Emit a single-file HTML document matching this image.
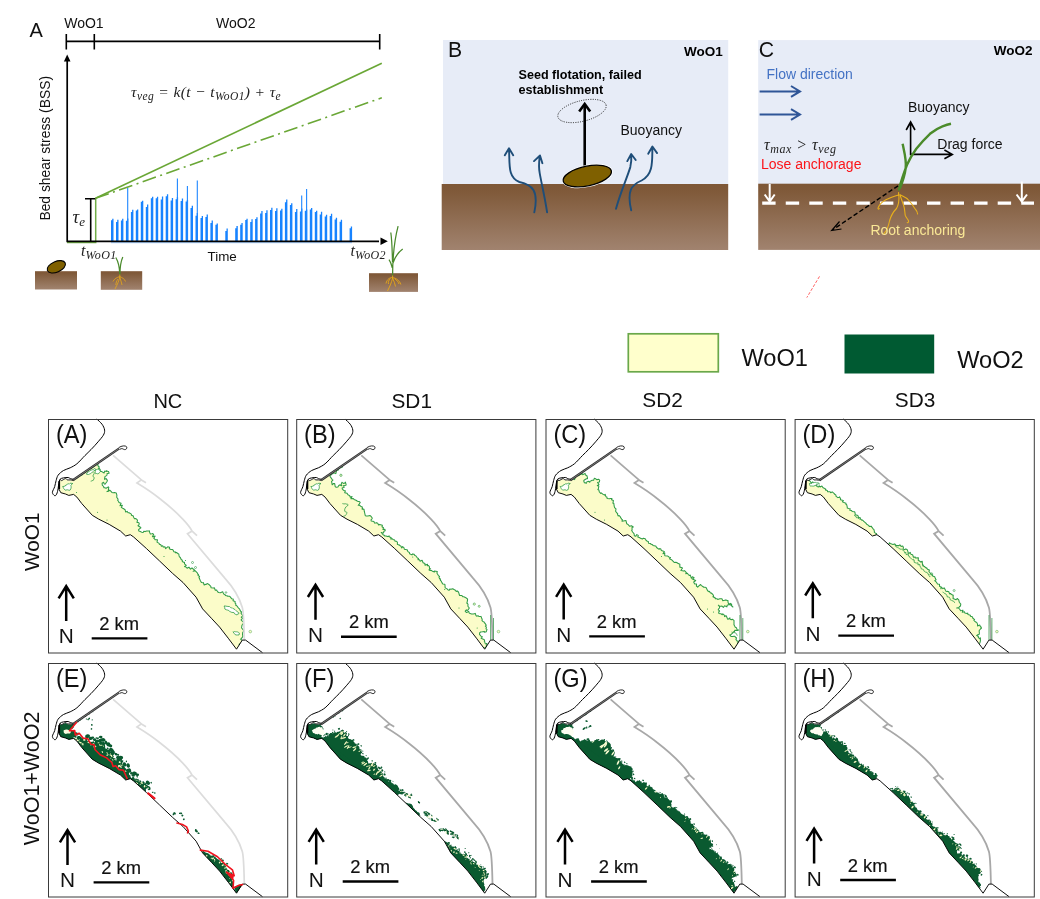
<!DOCTYPE html>
<html><head><meta charset="utf-8"><title>Figure</title>
<style>
html,body{margin:0;padding:0;background:#fff;}
body{width:1040px;height:899px;overflow:hidden;font-family:"Liberation Sans",sans-serif;}
svg{display:block;will-change:transform}
.s{font-family:"Liberation Sans",sans-serif;fill:#111}
.b{font-weight:bold;fill:#000}
.k{stroke:#111;stroke-width:0.18px}
.m{font-family:"Liberation Serif",serif;font-style:italic;fill:#222}
</style></head><body>
<svg width="1040" height="899" viewBox="0 0 1040 899">
<defs>
<linearGradient id="soil" x1="0" y1="0" x2="0" y2="1"><stop offset="0" stop-color="#7e5736"/><stop offset="0.12" stop-color="#805a3a"/><stop offset="1" stop-color="#a1836f"/></linearGradient>
<g id="coast"><path d="M48.8 0.0C49.7 0.9 52.7 3.4 54.0 5.2C55.3 7.0 56.4 9.2 56.6 11.1C56.8 12.9 56.4 14.4 55.3 16.3C54.2 18.2 52.1 20.4 50.1 22.8C48.1 25.2 45.2 28.3 43.0 30.6C40.8 32.9 39.4 34.1 37.0 36.5C34.6 38.9 31.4 42.8 28.9 44.8C26.4 46.8 24.4 47.7 22.2 48.8C20.0 49.9 17.5 50.3 15.5 51.5C13.5 52.7 11.3 54.5 10.1 56.2C8.9 57.9 8.7 59.7 8.1 61.6C7.5 63.5 7.3 65.6 6.7 67.6C6.1 69.6 4.4 71.9 4.4 73.4C4.4 74.9 6.0 76.4 6.7 76.7C7.4 77.0 8.1 76.2 8.7 75.0C9.3 73.8 9.8 71.5 10.1 69.7C10.4 67.9 10.5 65.9 10.8 64.3C11.1 62.7 11.3 61.1 12.1 60.2C12.9 59.3 14.2 59.2 15.5 58.9C16.9 58.6 19.1 58.4 20.2 58.5C21.3 58.6 21.3 59.3 22.2 59.6C23.1 59.9 25.0 60.3 25.6 60.4" fill="none" stroke="#000" stroke-width="1"/><path d="M12.1 60.4C12.3 60.6 12.6 61.7 13.5 61.6C14.4 61.5 16.5 59.7 17.5 59.6C18.5 59.5 18.7 60.7 19.5 60.9C20.3 61.1 21.3 60.8 22.2 60.9C23.1 61.0 24.5 61.3 25.0 61.4" fill="none" stroke="#000" stroke-width="0.9"/><path d="M11.6 61.0L11.1 64.3L10.7 69.7L12.8 73.7L17.5 75.0L20.8 76.4L25.6 75.4L28.9 78.1L33.8 84.6L44.3 96.3L50.8 100.2L61.2 105.4L72.5 112.1L77.7 117.0L82.3 115.7L85.5 117.9L98.5 129.6L111.6 142.0L124.6 154.4L135.0 163.5L148.1 178.2L154.6 189.9L163.8 199.7L171.6 208.1L180.7 219.8L188.5 230.2L194.3 221.1L197.6 221.1L214.5 233.7" fill="none" stroke="#000" stroke-width="0.95" stroke-linejoin="round"/><path d="M11.3 62V70" stroke="#000" stroke-width="1.6"/><path d="M24.8 61.2L71.3 29.4" stroke="#2a2a2a" stroke-width="2.3" fill="none"/><path d="M25.5 60.7L71.3 29.4" stroke="#b5b5b5" stroke-width="0.55" fill="none"/><path d="M70.8 28.6C73.5 26.6 77.5 26.4 78.5 27.7C79.5 29.1 78.2 30.8 76.6 30.6C75.3 30.4 74.6 29.3 73.2 29.7L71.8 30.3" fill="#fff" stroke="#111" stroke-width="0.9"/></g>
<path id="gl" d="M65.1 36.4L93.4 60.9L89 63.9C95 67.5 105 74 111.6 79.5C120 86 130 95 135 100.3C139 104.5 142 108 144.1 112.1L139.5 114.7L176.6 158.9C184 167 191 177 194.3 188.6C195.6 193 195.9 200 196.3 221.1M93.4 60.9L98 63.7M144.1 112.1L149 116.6" fill="none"/>
<clipPath id="land"><path d="M11.6 61.0L11.1 64.3L10.7 69.7L12.8 73.7L17.5 75.0L20.8 76.4L25.6 75.4L28.9 78.1L33.8 84.6L44.3 96.3L50.8 100.2L61.2 105.4L72.5 112.1L77.7 117.0L82.3 115.7L85.5 117.9L98.5 129.6L111.6 142.0L124.6 154.4L135.0 163.5L148.1 178.2L154.6 189.9L163.8 199.7L171.6 208.1L180.7 219.8L188.5 230.2L194.3 221.1L197.0 221.0L240.0 221.0L240.0 30.0L71.5 29.6L24.8 61.5L19.5 61.2L17.5 60.0L13.5 61.8Z"/></clipPath>
</defs>
<g stroke="#000" stroke-width="1.6" fill="none">
<path d="M66.3 41.4H379.7M66.3 34V49.5M94.3 34V49.5M379.7 34V49.5"/>
</g>
<text x="29.4" y="36.5" font-size="20" class="s">A</text>
<text x="64.2" y="28" font-size="14" class="s">WoO1</text>
<text x="216" y="28.2" font-size="14" class="s">WoO2</text>
<path d="M111.0 241.6V220.3H112.2V218.8H113.5V241.6ZM116.0 241.6V221.9H117.2V219.8H118.5V241.6ZM120.9 241.6V220.5H122.1V218.8H123.4V241.6ZM125.9 241.6V220.8H127.1V218.6H128.4V241.6ZM130.9 241.6V212.0H132.1V209.7H133.4V241.6ZM135.8 241.6V210.5H137.0V209.4H138.3V241.6ZM140.8 241.6V201.8H142.0V200.8H143.3V241.6ZM145.8 241.6V207.1H147.0V204.4H148.3V241.6ZM150.8 241.6V198.2H152.0V196.7H153.3V241.6ZM155.7 241.6V198.2H156.9V196.7H158.2V241.6ZM160.7 241.6V199.5H161.9V196.5H163.2V241.6ZM165.7 241.6V196.2H166.9V194.3H168.2V241.6ZM170.6 241.6V200.6H171.8V197.9H173.1V241.6ZM175.6 241.6V199.2H176.8V197.2H178.1V241.6ZM180.6 241.6V200.9H181.8V198.6H183.1V241.6ZM185.6 241.6V201.4H186.8V200.1H188.1V241.6ZM190.5 241.6V208.1H191.7V205.8H193.0V241.6ZM195.5 241.6V215.7H196.7V213.0H198.0V241.6ZM200.5 241.6V217.9H201.7V215.9H203.0V241.6ZM205.4 241.6V217.0H206.6V214.5H207.9V241.6ZM210.4 241.6V222.9H211.6V220.6H212.9V241.6ZM215.4 241.6V224.7H216.6V223.6H217.9V241.6ZM225.3 241.6V231.1H226.5V228.6H227.8V241.6ZM235.2 241.6V228.2H236.4V226.0H237.8V241.6ZM240.2 241.6V224.7H241.4V223.1H242.7V241.6ZM245.2 241.6V219.9H246.4V218.8H247.7V241.6ZM250.2 241.6V221.9H251.4V219.2H252.7V241.6ZM255.1 241.6V219.1H256.3V217.2H257.6V241.6ZM260.1 241.6V213.5H261.3V211.1H262.6V241.6ZM265.1 241.6V213.1H266.3V210.3H267.6V241.6ZM270.0 241.6V210.1H271.2V207.7H272.5V241.6ZM275.0 241.6V211.1H276.2V208.3H277.5V241.6ZM280.0 241.6V210.5H281.2V208.7H282.5V241.6ZM284.9 241.6V202.2H286.1V199.6H287.4V241.6ZM289.9 241.6V205.1H291.1V203.2H292.4V241.6ZM294.9 241.6V212.0H296.1V209.1H297.4V241.6ZM299.9 241.6V211.4H301.1V208.6H302.4V241.6ZM304.8 241.6V210.8H306.0V209.6H307.3V241.6ZM309.8 241.6V209.4H311.0V208.1H312.3V241.6ZM314.8 241.6V212.1H316.0V210.7H317.3V241.6ZM319.7 241.6V214.6H320.9V211.7H322.2V241.6ZM324.7 241.6V216.6H325.9V214.7H327.2V241.6ZM329.7 241.6V216.0H330.9V213.7H332.2V241.6ZM334.6 241.6V219.4H335.8V217.8H337.1V241.6ZM339.6 241.6V221.8H340.8V219.8H342.1V241.6ZM349.6 241.6V228.3H350.8V226.5H352.1V241.6Z" fill="#1783ff"/>
<path d="M127.7 241.6V188.1M177.4 241.6V178.4M187.4 241.6V185.9M197.3 241.6V180.6M301.7 241.6V195.6M306.6 241.6V189.1" stroke="#1f87ff" stroke-width="1.1" fill="none"/>
<path d="M111 242.7H352" stroke="#5aa8ff" stroke-width="0.6"/>
<path d="M67 242.4H95.7V198.4" stroke="#70ad47" stroke-width="1.5" fill="none"/>
<path d="M95.5 198.3L381.8 63.2" stroke="#6aa736" stroke-width="1.6" fill="none"/>
<path d="M95.5 198.3L381.8 97.8" stroke="#6aa736" stroke-width="1.6" fill="none" stroke-dasharray="14 4.5 2 4.5"/>
<g stroke="#000" stroke-width="1.7" fill="none">
<path d="M67.2 241.5V60M66.4 241.3H379"/>
</g>
<path d="M67.2 54.5L63.9 61.5H70.5Z" fill="#000"/>
<path d="M387.8 241.2L380.5 237.5V244.9Z" fill="#000"/>
<path d="M85 198.8H95.3M90.7 198.8V241" stroke="#000" stroke-width="1.6" fill="none"/>
<text transform="translate(49.8 220.6) rotate(-90)" font-size="13.85" class="s">Bed shear stress (BSS)</text>
<text x="207.5" y="261.3" font-size="13.4" class="s">Time</text>
<text x="131" y="96.5" font-size="15.5" class="m" letter-spacing="0.38">τ<tspan font-size="11.5" dy="3.2">veg</tspan><tspan dy="-3.2"> = k(t − t</tspan><tspan font-size="11.5" dy="3.2">WoO1</tspan><tspan dy="-3.2">) + τ</tspan><tspan font-size="11.5" dy="3.2">e</tspan></text>
<text x="72.5" y="222.5" font-size="18.5" class="m">τ<tspan font-size="13" dy="3.5">e</tspan></text>
<text x="81" y="256.3" font-size="16" class="m">t<tspan font-size="12" dy="3" letter-spacing="0.45">WoO1</tspan></text>
<text x="350.5" y="256.3" font-size="16" class="m">t<tspan font-size="12" dy="3" letter-spacing="0.3">WoO2</tspan></text>
<rect x="35" y="271.2" width="42" height="18.3" fill="url(#soil)"/>
<rect x="100.8" y="271.2" width="41.4" height="18.6" fill="url(#soil)"/>
<rect x="369" y="273.2" width="49" height="18.7" fill="url(#soil)"/>
<ellipse cx="56.3" cy="266.8" rx="9.7" ry="5.3" transform="rotate(-23 56.3 266.8)" fill="#7f6000" stroke="#000" stroke-width="1.1"/>
<path d="M119.8 274.5C119.6 268 118.5 262 115.8 257.5M119.9 274.5C120 267 121 261 122.8 257" stroke="#4a8a2c" stroke-width="1.25" fill="none"/>
<path d="M119.8 274.5V277M119.8 276.5C117 277.5 114.5 278.5 113 281.5M119.8 276.5C122 277.8 124.5 278.5 125.5 281.5M119.8 277C119 281 117.5 284 115 289M119.8 277C120.5 280 121.5 282 122 285M118 279C116.5 281 116 283 115.8 285" stroke="#e8a818" stroke-width="0.8" fill="none"/>
<path d="M392.6 276C392.6 262 394.5 240 398.1 226.2M392.5 262C392.2 250 392 240 390.8 232.5M393 263C395 257 398.5 252 402.7 249M392.3 268C391.5 264 390.5 261.5 389 259.5" stroke="#4a8a2c" stroke-width="1.25" fill="none"/>
<path d="M392.6 275.5V278.5M392.6 277.5C390 277.5 387 279 386 283.5M392.6 277.5C396 278.5 399.5 280 400.8 284.5M392.6 278C391.5 283 389.5 287 387.5 291M392.6 278C394 281 395 284 395.5 286.5M390.5 278.5C388.5 280.5 388 282 388.5 284M395 279C397 280.5 398 281.5 399 284" stroke="#e8a818" stroke-width="0.9" fill="none"/>
<rect x="443" y="40" width="285.2" height="144.3" fill="#e7ecf7"/>
<rect x="441.7" y="184" width="286.5" height="66" fill="url(#soil)"/>
<text x="448.1" y="56.6" font-size="21.2" class="s">B</text>
<text x="684" y="56.2" font-size="13.5" class="s b">WoO1</text>
<text x="518.5" y="78.6" font-size="12.6" class="s b">Seed flotation, failed</text>
<text x="518.5" y="93.6" font-size="12.6" class="s b">establishment</text>
<text x="620.5" y="135" font-size="14" class="s">Buoyancy</text>
<ellipse cx="582" cy="111" rx="24.8" ry="10.3" transform="rotate(-14 582 111)" fill="none" stroke="#222" stroke-width="0.9" stroke-dasharray="1 1.3"/>
<path d="M584.7 168V105" stroke="#000" stroke-width="2.6" fill="none"/>
<path d="M579.2 111.5L584.7 104L590.2 111.5" stroke="#000" stroke-width="2.6" fill="none" stroke-linejoin="miter"/>
<ellipse cx="587.3" cy="176" rx="24.6" ry="9.8" transform="rotate(-12 587.3 176)" fill="#7f6000" stroke="#fff" stroke-width="2.5"/>
<ellipse cx="587.3" cy="176" rx="24.6" ry="9.8" transform="rotate(-12 587.3 176)" fill="#7f6000" stroke="#000" stroke-width="1.3"/>
<path d="M534.3 212.4C538.8 191.0 532.8 185.0 519.4 182.0C507.5 177.5 509.9 164.1 509.0 149.2M504.8 155.2L509.0 148.3L513.2 155.2" stroke="#1f4e79" stroke-width="1.9" fill="none" stroke-linecap="round" stroke-linejoin="round"/>
<path d="M547.1 212.4C544.8 196.9 541.8 185.0 539.7 173.1C538.5 167.1 539.1 161.1 539.7 156.7M534.0 161.1L540.0 155.5L542.4 163.2" stroke="#1f4e79" stroke-width="1.9" fill="none" stroke-linecap="round" stroke-linejoin="round"/>
<path d="M616.0 208.8C620.8 191.0 626.7 179.0 630.3 167.1C631.5 162.6 631.5 158.8 631.2 155.2M627.3 161.1L631.2 154.0L635.7 160.0" stroke="#1f4e79" stroke-width="1.9" fill="none" stroke-linecap="round" stroke-linejoin="round"/>
<path d="M631.2 210.3C626.7 191.0 631.2 185.0 641.6 180.5C653.5 174.6 652.1 161.1 652.4 147.7M648.2 153.7L652.4 146.5L657.1 153.1" stroke="#1f4e79" stroke-width="1.9" fill="none" stroke-linecap="round" stroke-linejoin="round"/>
<rect x="758.2" y="40.1" width="282" height="144" fill="#e7ecf7"/>
<rect x="758.2" y="183.7" width="282" height="66.2" fill="url(#soil)"/>
<text x="758.8" y="57" font-size="21.2" class="s">C</text>
<text x="993.8" y="55.2" font-size="13.5" class="s b">WoO2</text>
<text x="766.5" y="79.2" font-size="14" class="s" style="fill:#4472c4">Flow direction</text>
<g stroke="#2f5597" stroke-width="2" fill="none"><path d="M759.6 91.4H799M791 86L800 91.4L791 96.8M759.6 114.5H799M791 109.1L800 114.5L791 119.9"/></g>
<text x="764" y="149.8" font-size="16" class="m" letter-spacing="0.5">τ<tspan font-size="12" dy="3">max</tspan><tspan dy="-3"> &gt; τ</tspan><tspan font-size="12" dy="3">veg</tspan></text>
<text x="761" y="169" font-size="14" class="s" style="fill:#fb1419">Lose anchorage</text>
<text x="908" y="112.3" font-size="14" class="s">Buoyancy</text>
<text x="937.3" y="149.2" font-size="14" class="s">Drag force</text>
<path d="M910.6 122.5V154.4H951.5M906.2 130L910.6 122L915 130M944.4 150L952.3 154.4L944.4 158.8" stroke="#000" stroke-width="1.6" fill="none"/>
<path d="M898.7 190.5C900.5 183 903.5 174 906.9 165C909.5 159 912.5 154 916.3 148.8C920.5 143.5 925 138.5 930 133.8C934 130.5 938 128 942.5 126.3C945.5 125.2 948.5 124.3 951 123.8M902.6 143.8C904.4 152.5 906.6 160 905.7 168C904.8 175 902.5 182 899.8 188.5" stroke="#4b8b2b" stroke-width="2.4" fill="none" stroke-linecap="butt"/>
<path d="M762.2 203.2H1034" stroke="#fff" stroke-width="3.3" stroke-dasharray="13.4 10.15" fill="none"/>
<path d="M769.7 184V201M764.7 194.5L769.7 201.5L774.7 194.5M1021.8 181.5V201M1016.6 194.5L1021.8 201.5L1027 194.5" stroke="#fff" stroke-width="2" fill="none"/>
<path d="M898.1 185.8L832.9 229.6" stroke="#000" stroke-width="1.4" stroke-dasharray="4.6 2.4" fill="none"/>
<path d="M839.5 221.5L831.7 230.5L841.5 229.0" stroke="#000" stroke-width="1.2" fill="none"/>
<path d="M898.6 192.5V195.5M898.5 195C889 197.9 881.2 200.8 878.2 207.5C877.6 209 878.3 209.5 879.3 208.6M898.9 195C899.3 201.7 898 206 896.5 208.5C893 212 890.8 216.2 889.5 221C888.4 226.7 886.5 231 884 233.5M900.2 195.5C901 198 902.3 201.7 903.5 205C905 209 904.7 212 905.2 215.2C906 218 908.9 220 908.6 221.5C908.4 222.6 907.9 222.9 907.2 222.6M900 194.6C902 196 906.2 197 908.5 200C911 202.7 913 205.5 914.8 208.5C916 210 917.5 211.3 917.6 214" stroke="#e8af1c" stroke-width="1.1" fill="none" stroke-linecap="round"/>
<text x="870.4" y="235.2" font-size="14" class="s" style="fill:#fae896">Root anchoring</text>
<path d="M819.5 276.4L806.8 297.6" stroke="#ff3b3b" stroke-width="0.8" stroke-dasharray="3 1.6" fill="none"/>

<rect x="628.3" y="333.8" width="90" height="38" fill="#ffffcc" stroke="#6aa84a" stroke-width="1.7"/>
<rect x="844.5" y="334.5" width="89.7" height="39" fill="#005a32"/>
<text x="741.5" y="366.3" font-size="23.6" class="s">WoO1</text>
<text x="957.2" y="367.6" font-size="23.6" class="s">WoO2</text>
<text x="153.4" y="408" font-size="20" class="s">NC</text>
<text x="391.5" y="407.5" font-size="20.8" class="s">SD1</text>
<text x="642.3" y="407.3" font-size="20.8" class="s">SD2</text>
<text x="894.8" y="407.3" font-size="20.8" class="s">SD3</text>
<text transform="translate(39.3 571) rotate(-90)" font-size="20.8" class="s">WoO1</text>
<text transform="translate(39.4 845.2) rotate(-90)" font-size="21.5" class="s">WoO1+WoO2</text>
<g transform="translate(48 419)">
<path d="M24.7 60.4L26.3 60.7L26.6 59.0L27.9 58.4L29.6 58.7L30.4 57.1L31.9 56.0L32.4 56.6L34.2 55.8L33.9 53.8L36.6 54.0L36.5 53.8L37.1 53.2L39.3 51.6L39.4 50.5L40.7 50.7L42.1 49.8L43.8 49.3L43.1 47.4L44.8 48.4L46.3 47.0L48.0 46.0L48.3 45.8L49.2 44.5L50.0 44.7L49.8 46.7L51.2 48.0L50.6 49.6L51.4 49.5L52.4 51.1L51.7 52.6L53.4 52.4L56.1 54.0L56.7 52.1L58.6 52.4L58.5 51.7L59.6 52.2L60.5 52.5L61.1 54.2L59.1 54.4L59.0 55.9L58.6 56.6L58.1 56.9L56.9 57.6L56.6 60.4L58.1 59.6L59.4 61.4L58.9 62.7L57.0 65.3L56.2 64.9L55.7 63.3L54.1 64.3L54.3 66.2L55.6 67.5L56.0 68.8L56.8 68.8L58.1 69.3L60.3 67.9L60.8 68.6L60.5 69.8L60.3 72.4L59.0 72.6L60.8 72.1L61.7 71.1L62.8 72.2L63.9 73.4L65.2 73.7L66.5 73.5L68.2 73.9L68.8 75.8L68.9 76.3L68.7 78.3L69.7 79.6L70.1 80.2L69.7 81.4L70.7 82.5L70.9 83.5L73.1 84.3L72.0 86.7L72.3 86.6L74.4 86.3L73.3 88.4L74.7 89.2L75.3 89.5L77.1 90.7L77.6 93.0L79.1 92.4L80.1 93.7L80.8 93.7L81.1 93.8L83.4 95.1L83.4 96.3L85.4 97.0L85.4 97.6L85.6 98.2L86.5 99.7L87.9 99.5L89.5 101.1L89.0 103.4L90.1 103.4L91.2 104.2L91.0 105.8L90.0 106.7L92.4 108.2L92.9 108.8L91.4 109.9L90.5 110.9L90.9 112.0L92.3 112.5L94.0 113.4L95.4 113.3L95.8 112.2L97.2 112.6L98.7 112.0L101.5 111.9L101.5 113.1L102.4 115.0L103.9 114.8L104.8 114.6L105.7 115.3L104.4 117.8L107.1 117.1L105.7 119.3L106.4 119.4L107.1 120.7L109.5 120.8L109.0 123.1L111.2 124.4L111.3 125.2L112.9 125.8L113.4 127.3L114.7 126.8L115.3 128.1L117.0 127.8L117.6 129.7L119.7 127.8L121.6 128.2L121.3 129.8L122.9 130.4L124.6 130.6L125.0 130.9L125.9 132.7L127.7 133.1L127.3 133.8L128.6 133.5L130.2 134.8L130.8 135.0L131.1 136.9L131.5 138.1L132.2 138.3L133.2 140.5L134.3 141.2L134.3 142.5L135.6 143.3L136.5 143.2L136.5 144.9L138.3 146.3L136.5 147.6L136.9 147.5L138.9 148.6L139.1 149.3L140.9 148.2L142.5 150.2L144.0 148.9L144.9 149.8L146.7 151.1L145.1 152.3L147.3 151.8L149.3 153.9L149.8 155.0L150.5 155.6L149.9 156.0L151.6 157.6L151.0 158.4L151.4 159.6L152.3 161.4L153.4 163.4L155.3 163.7L155.3 163.5L156.2 166.0L158.0 165.3L157.9 165.4L159.6 164.6L161.3 165.8L162.1 166.6L163.0 167.8L163.0 168.8L165.6 169.1L166.3 168.8L167.3 171.3L168.7 171.0L169.0 171.7L169.7 172.6L170.4 173.6L172.4 173.7L174.7 172.7L175.0 173.4L176.0 175.2L177.0 175.6L177.4 176.4L179.8 177.1L179.2 177.2L181.6 177.3L182.0 177.7L183.6 179.7L185.1 179.9L185.3 180.7L185.0 181.8L187.1 182.5L187.1 184.1L187.9 184.9L187.7 186.3L188.8 186.8L190.0 188.4L190.6 189.1L191.7 190.1L192.2 191.6L193.1 192.8L193.6 192.8L193.0 194.3L194.9 196.8L193.3 198.2L194.8 199.1L193.1 200.8L194.3 202.1L195.3 202.8L195.6 204.1L194.6 205.5L194.0 206.1L193.6 208.5L193.6 209.0L195.5 211.2L195.5 211.4L195.8 212.3L194.7 213.4L194.5 215.6L194.9 217.1L194.6 217.9L193.3 219.6L192.4 220.1L193.7 220.8L194.6 222.4L193.7 223.3L191.6 225.2L191.1 225.3L191.9 227.9L190.6 227.9L190.7 228.4L150.7 268.4L-20.0 260.0L-20.0 40.0Z" fill="#fbfcc9" clip-path="url(#land)"/><path d="M24.7 60.4L26.3 60.7L26.6 59.0L27.9 58.4L29.6 58.7L30.4 57.1L31.9 56.0L32.4 56.6L34.2 55.8L33.9 53.8L36.6 54.0L36.5 53.8L37.1 53.2L39.3 51.6L39.4 50.5L40.7 50.7L42.1 49.8L43.8 49.3L43.1 47.4L44.8 48.4L46.3 47.0L48.0 46.0L48.3 45.8L49.2 44.5L50.0 44.7L49.8 46.7L51.2 48.0L50.6 49.6L51.4 49.5L52.4 51.1L51.7 52.6L53.4 52.4L56.1 54.0L56.7 52.1L58.6 52.4L58.5 51.7L59.6 52.2L60.5 52.5L61.1 54.2L59.1 54.4L59.0 55.9L58.6 56.6L58.1 56.9L56.9 57.6L56.6 60.4L58.1 59.6L59.4 61.4L58.9 62.7L57.0 65.3L56.2 64.9L55.7 63.3L54.1 64.3L54.3 66.2L55.6 67.5L56.0 68.8L56.8 68.8L58.1 69.3L60.3 67.9L60.8 68.6L60.5 69.8L60.3 72.4L59.0 72.6L60.8 72.1L61.7 71.1L62.8 72.2L63.9 73.4L65.2 73.7L66.5 73.5L68.2 73.9L68.8 75.8L68.9 76.3L68.7 78.3L69.7 79.6L70.1 80.2L69.7 81.4L70.7 82.5L70.9 83.5L73.1 84.3L72.0 86.7L72.3 86.6L74.4 86.3L73.3 88.4L74.7 89.2L75.3 89.5L77.1 90.7L77.6 93.0L79.1 92.4L80.1 93.7L80.8 93.7L81.1 93.8L83.4 95.1L83.4 96.3L85.4 97.0L85.4 97.6L85.6 98.2L86.5 99.7L87.9 99.5L89.5 101.1L89.0 103.4L90.1 103.4L91.2 104.2L91.0 105.8L90.0 106.7L92.4 108.2L92.9 108.8L91.4 109.9L90.5 110.9L90.9 112.0L92.3 112.5L94.0 113.4L95.4 113.3L95.8 112.2L97.2 112.6L98.7 112.0L101.5 111.9L101.5 113.1L102.4 115.0L103.9 114.8L104.8 114.6L105.7 115.3L104.4 117.8L107.1 117.1L105.7 119.3L106.4 119.4L107.1 120.7L109.5 120.8L109.0 123.1L111.2 124.4L111.3 125.2L112.9 125.8L113.4 127.3L114.7 126.8L115.3 128.1L117.0 127.8L117.6 129.7L119.7 127.8L121.6 128.2L121.3 129.8L122.9 130.4L124.6 130.6L125.0 130.9L125.9 132.7L127.7 133.1L127.3 133.8L128.6 133.5L130.2 134.8L130.8 135.0L131.1 136.9L131.5 138.1L132.2 138.3L133.2 140.5L134.3 141.2L134.3 142.5L135.6 143.3L136.5 143.2L136.5 144.9L138.3 146.3L136.5 147.6L136.9 147.5L138.9 148.6L139.1 149.3L140.9 148.2L142.5 150.2L144.0 148.9L144.9 149.8L146.7 151.1L145.1 152.3L147.3 151.8L149.3 153.9L149.8 155.0L150.5 155.6L149.9 156.0L151.6 157.6L151.0 158.4L151.4 159.6L152.3 161.4L153.4 163.4L155.3 163.7L155.3 163.5L156.2 166.0L158.0 165.3L157.9 165.4L159.6 164.6L161.3 165.8L162.1 166.6L163.0 167.8L163.0 168.8L165.6 169.1L166.3 168.8L167.3 171.3L168.7 171.0L169.0 171.7L169.7 172.6L170.4 173.6L172.4 173.7L174.7 172.7L175.0 173.4L176.0 175.2L177.0 175.6L177.4 176.4L179.8 177.1L179.2 177.2L181.6 177.3L182.0 177.7L183.6 179.7L185.1 179.9L185.3 180.7L185.0 181.8L187.1 182.5L187.1 184.1L187.9 184.9L187.7 186.3L188.8 186.8L190.0 188.4L190.6 189.1L191.7 190.1L192.2 191.6L193.1 192.8L193.6 192.8L193.0 194.3L194.9 196.8L193.3 198.2L194.8 199.1L193.1 200.8L194.3 202.1L195.3 202.8L195.6 204.1L194.6 205.5L194.0 206.1L193.6 208.5L193.6 209.0L195.5 211.2L195.5 211.4L195.8 212.3L194.7 213.4L194.5 215.6L194.9 217.1L194.6 217.9L193.3 219.6L192.4 220.1L193.7 220.8L194.6 222.4L193.7 223.3L191.6 225.2L191.1 225.3L191.9 227.9L190.6 227.9L190.7 228.4" fill="none" stroke="#309c46" stroke-width="1.05" stroke-linejoin="round" clip-path="url(#land)"/>
<path d="M14.8 67.6L16.1 67.3L17.3 67.0L18.0 65.8L18.6 65.8L19.6 65.1L20.2 64.8L21.6 65.0L22.0 64.6L22.7 64.2L23.8 64.4L24.8 64.5L23.8 64.9L23.4 65.8L22.9 66.3L23.1 67.4L23.1 68.9L22.8 69.8L22.2 71.0L21.1 71.4L20.5 71.1L19.5 70.8L18.1 71.0L17.2 71.2L16.2 70.1L15.7 69.5L15.2 68.4L14.7 67.4Z" fill="#fff" stroke="#309c46" stroke-width="0.8" stroke-linejoin="round"/>
<path d="M38.3 54.2L39.4 54.1L39.8 52.7L40.8 52.8L41.7 51.9L42.5 51.5L43.3 51.1L44.4 50.7L45.1 50.8L46.0 49.7L46.7 49.7L48.1 50.6L47.1 51.3L46.0 51.6L45.6 52.2L45.2 52.5L44.3 53.1L43.3 54.2L42.6 54.6L41.8 54.9L40.6 55.5L39.8 55.5L38.7 55.4L38.3 54.3Z" fill="#fff" stroke="#309c46" stroke-width="0.8" stroke-linejoin="round"/>
<path d="M47.0 52.0L47.9 51.0L48.7 50.5L49.6 50.2L51.0 50.1L51.4 51.3L52.8 52.1L51.8 53.2L51.3 53.6L50.8 54.5L49.4 54.8L48.5 54.5L47.7 54.7L47.3 53.8L47.2 53.0L47.2 52.2Z" fill="#fff" stroke="#309c46" stroke-width="0.8" stroke-linejoin="round"/>
<path d="M46.5 53.0L46.0 53.6L46.2 54.9L45.2 56.0L45.0 57.0L45.1 57.7L46.3 58.6L45.9 59.9L45.3 61.3L44.9 61.4L43.8 61.9L42.7 62.2" fill="none" stroke="#309c46" stroke-width="0.8"/>
<circle cx="49.5" cy="93.3" r="0.55" fill="#309c46"/><circle cx="59" cy="101" r="0.55" fill="#309c46"/><circle cx="28.5" cy="73.5" r="0.55" fill="#309c46"/><circle cx="116" cy="137.5" r="0.55" fill="#309c46"/><circle cx="137.5" cy="141.5" r="0.55" fill="#309c46"/>
<path d="M176.0 187.0L176.8 187.0L178.0 187.1L179.0 187.4L179.9 187.4L181.1 187.6L181.7 187.6L182.6 188.6L183.6 188.9L184.5 189.0L185.0 189.5L185.9 189.9L187.0 190.7L187.6 191.3L188.6 191.9L189.3 192.8L190.3 193.5L190.9 193.7L190.8 194.8L189.5 195.1L189.2 195.8L188.0 195.7L187.2 195.1L186.5 194.8L186.1 193.7L185.1 193.4L183.9 193.5L182.9 192.9L181.9 192.7L181.3 192.2L180.8 191.5L179.7 191.1L178.8 190.9L178.0 190.7L176.8 190.0L176.8 188.8L176.5 188.0L176.1 187.0Z" fill="#fff" stroke="#309c46" stroke-width="0.8" stroke-linejoin="round"/>
<circle cx="144.5" cy="143.5" r="1" fill="none" stroke="#309c46" stroke-width="0.6"/><circle cx="147.5" cy="148.5" r="1" fill="none" stroke="#309c46" stroke-width="0.6"/><circle cx="178" cy="173.5" r="0.8" fill="none" stroke="#309c46" stroke-width="0.6"/>
<path d="M185.0 213.0L185.9 213.0L186.7 212.5L187.7 212.8L188.6 212.8L189.4 212.9L190.7 213.5L191.4 214.0L191.3 214.8L191.0 216.0L189.8 215.9L189.1 216.1L188.1 215.9L187.1 215.6L186.4 214.7L185.8 213.8L184.9 212.9Z" fill="#fff" stroke="#309c46" stroke-width="0.8" stroke-linejoin="round"/>
<use href="#gl" stroke="#dcdcdc" stroke-width="1.7"/>
<use href="#coast"/>
<circle cx="202.3" cy="212.6" r="1.3" fill="#fbfcc8" stroke="#4aa552" stroke-width="0.5"/>
<rect x="0.5" y="0.5" width="239.2" height="233.5" fill="none" stroke="#3a3a3a" stroke-width="1"/><text transform="translate(7.9 24) scale(0.945 1)" font-size="25" class="s">(A)</text><path d="M18.2 202V167.5M10.6 179.3L18.2 167.2L25.799999999999997 179.3" stroke="#000" stroke-width="2.5" fill="none" stroke-linejoin="miter"/><text x="10.799999999999999" y="224.3" font-size="20.8" class="s">N</text><text x="51.3" y="210.8" font-size="18.4" class="s k" textLength="39.8" lengthAdjust="spacingAndGlyphs">2 km</text><path d="M43.7 219.4H99.4" stroke="#000" stroke-width="2.4"/>
</g>
<g transform="translate(296.2 419)">
<path d="M24.7 60.4L25.8 59.6L27.3 58.8L27.5 57.7L29.0 56.5L30.3 56.4L30.8 56.7L32.5 55.8L33.3 54.5L35.4 55.8L33.9 52.8L36.1 53.1L37.6 52.6L38.0 50.9L38.9 51.0L39.9 49.4L41.9 50.1L42.6 48.7L43.1 48.6L43.8 47.3L46.3 48.0L46.0 45.8L46.8 45.2L48.4 43.7L49.7 43.9L49.3 43.9L47.8 44.9L47.0 46.6L45.4 46.8L44.8 48.6L44.6 48.1L43.4 49.4L42.1 50.2L41.8 51.4L40.5 50.7L40.2 52.3L39.6 54.6L37.3 53.8L36.6 54.8L34.6 55.0L33.9 56.7L33.9 57.7L34.7 58.6L35.7 60.0L36.4 61.4L36.8 61.0L35.3 62.7L35.6 63.7L36.0 65.8L37.1 64.6L38.5 64.6L39.0 67.7L40.2 68.2L41.7 67.9L42.6 66.5L43.5 65.9L45.7 66.8L44.9 65.4L45.8 63.3L47.3 64.4L48.7 63.9L49.2 63.1L49.5 64.1L49.9 65.6L49.8 66.3L47.4 66.5L47.9 68.4L47.6 68.5L45.9 69.1L46.2 70.1L47.4 71.3L48.6 71.9L49.2 71.8L48.5 73.7L50.9 74.3L51.7 75.7L51.7 75.6L53.5 76.8L54.1 78.3L55.9 77.6L54.7 79.7L56.9 79.5L57.9 80.4L59.8 81.2L61.3 82.2L62.4 82.4L63.1 82.5L64.0 83.4L63.0 85.1L62.0 86.3L63.0 86.0L65.3 87.8L66.2 88.0L65.9 90.2L66.8 89.9L67.8 90.2L68.1 92.5L68.4 93.5L68.8 95.3L69.1 96.7L70.5 97.1L71.7 97.0L73.8 96.6L74.6 97.2L74.6 97.1L75.7 98.5L76.0 99.3L75.7 100.0L74.8 100.9L75.1 102.1L77.8 102.6L78.3 104.1L80.3 104.0L80.5 103.6L81.6 104.4L82.4 106.0L83.5 105.4L86.2 106.2L85.8 107.8L87.3 108.8L86.7 110.4L88.7 110.2L89.0 111.8L87.7 112.2L87.4 113.9L86.4 114.0L85.0 113.5L85.8 114.0L86.2 115.0L86.9 115.7L88.0 116.3L88.4 116.9L89.9 117.1L91.3 117.6L93.1 117.0L92.6 117.5L95.0 118.7L94.4 119.9L96.2 119.8L96.8 120.4L98.5 121.1L98.9 122.2L100.0 122.2L101.2 123.1L101.2 125.4L103.1 125.7L102.8 126.3L104.6 126.9L105.6 128.9L106.4 127.6L107.7 128.7L108.2 130.3L110.6 130.8L111.0 130.7L111.7 132.6L113.2 133.5L113.4 134.7L113.4 134.8L115.7 135.9L116.5 134.9L117.9 135.3L118.6 136.4L119.6 136.8L121.2 139.0L122.3 139.5L121.8 140.7L123.3 140.7L123.8 142.2L125.9 141.2L126.9 143.7L128.7 144.4L128.8 146.2L131.3 145.2L131.2 146.8L132.3 146.6L133.2 147.5L133.3 149.5L134.4 149.7L132.7 150.9L133.8 151.5L135.2 151.4L135.8 151.9L138.2 153.0L138.2 152.0L141.1 152.6L140.8 153.7L140.9 154.5L142.1 156.3L143.4 157.6L142.8 158.2L143.4 159.9L144.1 159.7L144.3 161.6L145.0 162.0L145.7 163.6L146.6 165.0L148.5 165.3L148.8 165.8L148.8 166.9L149.0 168.9L150.9 169.9L151.9 170.9L153.0 171.3L153.6 170.0L154.8 170.3L156.5 169.7L158.3 170.8L159.2 171.3L160.0 172.4L161.1 172.0L162.2 173.0L162.7 174.1L163.1 175.8L163.4 176.5L165.7 176.6L166.8 177.8L167.8 177.7L168.2 178.0L169.6 178.7L171.3 180.0L171.4 180.7L171.0 182.8L170.6 184.2L171.0 184.1L171.8 185.2L171.7 187.2L173.1 189.0L172.0 190.6L170.9 191.7L170.2 190.8L169.0 192.2L170.1 193.4L171.2 193.2L172.4 192.3L173.1 194.1L174.0 194.6L175.4 195.0L177.0 194.9L179.1 194.4L179.7 196.4L180.3 197.1L182.1 196.7L182.7 197.5L184.8 197.4L185.4 199.2L186.0 200.1L185.8 201.6L186.7 202.4L187.9 202.9L188.4 204.1L188.7 204.1L190.1 206.2L189.2 207.2L190.2 208.2L189.8 209.9L190.8 210.4L190.1 212.7L188.4 213.3L188.1 212.4L186.2 212.8L184.4 213.0L184.2 213.3L183.5 213.8L183.3 215.3L185.1 217.5L186.2 217.7L184.9 219.3L187.7 220.4L188.4 221.3L188.1 222.2L188.5 222.7L188.9 224.3L190.7 224.6L189.9 225.6L190.6 227.7L188.6 228.6L189.8 229.2L149.8 269.2L-20.0 260.0L-20.0 40.0Z" fill="#fbfcc9" clip-path="url(#land)"/><path d="M24.7 60.4L25.8 59.6L27.3 58.8L27.5 57.7L29.0 56.5L30.3 56.4L30.8 56.7L32.5 55.8L33.3 54.5L35.4 55.8L33.9 52.8L36.1 53.1L37.6 52.6L38.0 50.9L38.9 51.0L39.9 49.4L41.9 50.1L42.6 48.7L43.1 48.6L43.8 47.3L46.3 48.0L46.0 45.8L46.8 45.2L48.4 43.7L49.7 43.9L49.3 43.9L47.8 44.9L47.0 46.6L45.4 46.8L44.8 48.6L44.6 48.1L43.4 49.4L42.1 50.2L41.8 51.4L40.5 50.7L40.2 52.3L39.6 54.6L37.3 53.8L36.6 54.8L34.6 55.0L33.9 56.7L33.9 57.7L34.7 58.6L35.7 60.0L36.4 61.4L36.8 61.0L35.3 62.7L35.6 63.7L36.0 65.8L37.1 64.6L38.5 64.6L39.0 67.7L40.2 68.2L41.7 67.9L42.6 66.5L43.5 65.9L45.7 66.8L44.9 65.4L45.8 63.3L47.3 64.4L48.7 63.9L49.2 63.1L49.5 64.1L49.9 65.6L49.8 66.3L47.4 66.5L47.9 68.4L47.6 68.5L45.9 69.1L46.2 70.1L47.4 71.3L48.6 71.9L49.2 71.8L48.5 73.7L50.9 74.3L51.7 75.7L51.7 75.6L53.5 76.8L54.1 78.3L55.9 77.6L54.7 79.7L56.9 79.5L57.9 80.4L59.8 81.2L61.3 82.2L62.4 82.4L63.1 82.5L64.0 83.4L63.0 85.1L62.0 86.3L63.0 86.0L65.3 87.8L66.2 88.0L65.9 90.2L66.8 89.9L67.8 90.2L68.1 92.5L68.4 93.5L68.8 95.3L69.1 96.7L70.5 97.1L71.7 97.0L73.8 96.6L74.6 97.2L74.6 97.1L75.7 98.5L76.0 99.3L75.7 100.0L74.8 100.9L75.1 102.1L77.8 102.6L78.3 104.1L80.3 104.0L80.5 103.6L81.6 104.4L82.4 106.0L83.5 105.4L86.2 106.2L85.8 107.8L87.3 108.8L86.7 110.4L88.7 110.2L89.0 111.8L87.7 112.2L87.4 113.9L86.4 114.0L85.0 113.5L85.8 114.0L86.2 115.0L86.9 115.7L88.0 116.3L88.4 116.9L89.9 117.1L91.3 117.6L93.1 117.0L92.6 117.5L95.0 118.7L94.4 119.9L96.2 119.8L96.8 120.4L98.5 121.1L98.9 122.2L100.0 122.2L101.2 123.1L101.2 125.4L103.1 125.7L102.8 126.3L104.6 126.9L105.6 128.9L106.4 127.6L107.7 128.7L108.2 130.3L110.6 130.8L111.0 130.7L111.7 132.6L113.2 133.5L113.4 134.7L113.4 134.8L115.7 135.9L116.5 134.9L117.9 135.3L118.6 136.4L119.6 136.8L121.2 139.0L122.3 139.5L121.8 140.7L123.3 140.7L123.8 142.2L125.9 141.2L126.9 143.7L128.7 144.4L128.8 146.2L131.3 145.2L131.2 146.8L132.3 146.6L133.2 147.5L133.3 149.5L134.4 149.7L132.7 150.9L133.8 151.5L135.2 151.4L135.8 151.9L138.2 153.0L138.2 152.0L141.1 152.6L140.8 153.7L140.9 154.5L142.1 156.3L143.4 157.6L142.8 158.2L143.4 159.9L144.1 159.7L144.3 161.6L145.0 162.0L145.7 163.6L146.6 165.0L148.5 165.3L148.8 165.8L148.8 166.9L149.0 168.9L150.9 169.9L151.9 170.9L153.0 171.3L153.6 170.0L154.8 170.3L156.5 169.7L158.3 170.8L159.2 171.3L160.0 172.4L161.1 172.0L162.2 173.0L162.7 174.1L163.1 175.8L163.4 176.5L165.7 176.6L166.8 177.8L167.8 177.7L168.2 178.0L169.6 178.7L171.3 180.0L171.4 180.7L171.0 182.8L170.6 184.2L171.0 184.1L171.8 185.2L171.7 187.2L173.1 189.0L172.0 190.6L170.9 191.7L170.2 190.8L169.0 192.2L170.1 193.4L171.2 193.2L172.4 192.3L173.1 194.1L174.0 194.6L175.4 195.0L177.0 194.9L179.1 194.4L179.7 196.4L180.3 197.1L182.1 196.7L182.7 197.5L184.8 197.4L185.4 199.2L186.0 200.1L185.8 201.6L186.7 202.4L187.9 202.9L188.4 204.1L188.7 204.1L190.1 206.2L189.2 207.2L190.2 208.2L189.8 209.9L190.8 210.4L190.1 212.7L188.4 213.3L188.1 212.4L186.2 212.8L184.4 213.0L184.2 213.3L183.5 213.8L183.3 215.3L185.1 217.5L186.2 217.7L184.9 219.3L187.7 220.4L188.4 221.3L188.1 222.2L188.5 222.7L188.9 224.3L190.7 224.6L189.9 225.6L190.6 227.7L188.6 228.6L189.8 229.2" fill="none" stroke="#309c46" stroke-width="1.05" stroke-linejoin="round" clip-path="url(#land)"/>
<path d="M14.8 67.6L16.1 67.3L17.3 67.0L18.0 65.8L18.6 65.8L19.6 65.1L20.2 64.8L21.6 65.0L22.0 64.6L22.7 64.2L23.8 64.4L24.8 64.5L23.8 64.9L23.4 65.8L22.9 66.3L23.1 67.4L23.1 68.9L22.8 69.8L22.2 71.0L21.1 71.4L20.5 71.1L19.5 70.8L18.1 71.0L17.2 71.2L16.2 70.1L15.7 69.5L15.2 68.4L14.7 67.4Z" fill="#fff" stroke="#309c46" stroke-width="0.8" stroke-linejoin="round"/>
<path d="M46.2 84.6L47.3 84.8L47.9 84.9L49.4 84.8L49.9 85.0L51.4 85.3L51.9 85.7L51.2 87.0L50.3 87.6L49.7 87.9L48.9 89.2L48.7 90.0L48.4 90.8L48.7 92.5L49.4 92.8L50.1 93.1L50.9 93.6L50.4 94.7L50.0 95.5L49.5 96.0L48.6 97.0L47.3 97.1" fill="none" stroke="#309c46" stroke-width="0.8"/>
<circle cx="44.7" cy="56.3" r="1.1" fill="#fbfcc9" stroke="#309c46" stroke-width="0.7"/>
<circle cx="116.5" cy="138" r="0.55" fill="#309c46"/><circle cx="162.8" cy="189" r="0.55" fill="#309c46"/><circle cx="148.5" cy="170.5" r="0.55" fill="#309c46"/><circle cx="181" cy="209" r="0.55" fill="#309c46"/><circle cx="178.1" cy="185.1" r="1.1" fill="#fbfcc9" stroke="#309c46" stroke-width="0.6"/><circle cx="183" cy="187.3" r="1" fill="#fbfcc9" stroke="#309c46" stroke-width="0.6"/>
<use href="#gl" stroke="#a8a8a8" stroke-width="1.8"/>
<path d="M194.4 196V221M197.3 199V221" stroke="#3f9a52" stroke-width="0.8" fill="none"/>
<use href="#coast"/>
<circle cx="202.3" cy="212.6" r="1.3" fill="#fbfcc8" stroke="#4aa552" stroke-width="0.5"/>
<rect x="0.5" y="0.5" width="239.2" height="233.5" fill="none" stroke="#3a3a3a" stroke-width="1"/><text transform="translate(7.9 24) scale(0.945 1)" font-size="25" class="s">(B)</text><path d="M19.3 200.7V166.2M11.700000000000001 178.0L19.3 165.89999999999998L26.9 178.0" stroke="#000" stroke-width="2.5" fill="none" stroke-linejoin="miter"/><text x="11.9" y="223.0" font-size="20.8" class="s">N</text><text x="52.8" y="209.2" font-size="18.4" class="s k" textLength="39.8" lengthAdjust="spacingAndGlyphs">2 km</text><path d="M44.8 217.7H100.5" stroke="#000" stroke-width="2.4"/>
</g>
<g transform="translate(545.5 419)">
<path d="M24.7 60.4L26.7 60.6L27.5 59.8L29.1 60.6L30.0 57.8L30.7 56.4L30.8 56.3L32.6 56.8L33.9 56.3L34.3 55.7L36.9 54.7L37.2 55.7L39.6 54.4L39.9 56.0L41.3 56.5L41.9 58.3L42.0 59.8L40.9 59.8L38.5 61.3L38.2 61.9L38.9 63.8L41.0 64.2L40.5 63.4L42.8 62.3L44.3 63.3L44.2 62.4L45.2 62.0L46.7 61.3L48.1 61.3L48.8 59.3L49.8 59.6L51.5 60.8L52.9 60.2L54.2 61.2L53.9 63.0L52.0 63.5L53.5 65.4L51.8 66.7L53.1 66.5L53.3 67.7L52.7 70.3L52.3 70.6L53.4 71.1L53.9 73.0L55.2 74.4L55.7 73.8L57.6 75.3L58.0 75.6L59.1 76.1L59.7 75.4L60.4 77.7L61.4 77.9L61.6 79.5L64.1 79.8L64.7 79.6L66.5 79.5L66.0 80.8L67.9 81.6L67.4 84.2L68.3 84.3L68.5 85.8L68.8 87.6L69.2 88.8L69.4 88.9L70.5 89.8L70.1 92.2L71.3 93.9L72.1 94.2L72.1 95.5L72.6 96.9L73.7 96.6L74.9 97.8L75.0 98.4L76.6 100.7L76.9 100.5L76.5 102.2L79.2 101.7L80.5 101.5L81.0 104.0L81.3 104.7L82.7 105.6L83.8 107.0L84.1 107.2L85.9 106.7L87.8 108.0L86.5 108.5L86.6 111.1L86.1 111.2L87.1 113.0L88.5 114.6L88.8 116.0L88.8 116.8L90.3 117.3L91.3 115.6L92.8 116.4L92.3 118.0L94.4 118.7L94.4 119.0L96.9 120.0L97.9 119.2L99.7 119.7L100.0 120.5L100.5 121.3L101.8 122.2L102.8 122.4L103.0 124.2L105.1 124.4L105.1 124.9L107.1 125.8L107.5 126.4L109.8 127.0L110.3 127.1L111.1 128.5L112.1 129.2L113.6 130.3L114.2 129.6L115.3 130.0L115.9 131.6L118.8 132.4L117.5 134.8L119.3 134.0L119.2 135.3L119.3 136.8L122.0 136.9L123.8 138.2L125.1 138.5L124.0 139.8L125.6 140.6L126.2 140.8L128.2 142.9L128.9 143.5L130.1 143.2L131.6 143.6L131.7 144.0L134.4 145.3L134.3 147.1L134.5 148.4L134.5 148.0L137.0 149.0L135.4 151.5L135.7 151.6L138.1 152.1L139.0 151.6L140.9 153.6L140.3 154.7L141.9 154.2L142.6 155.3L144.0 156.5L144.8 156.1L145.9 159.3L146.9 157.7L148.6 158.8L146.8 160.1L150.2 161.5L148.2 163.0L148.4 163.4L149.2 164.9L151.1 164.9L150.9 167.0L152.2 168.2L153.1 167.2L155.1 165.5L155.7 166.3L157.0 167.3L158.3 168.2L159.7 168.3L160.4 168.4L161.2 169.7L162.1 171.7L163.7 172.7L163.9 172.4L165.0 174.0L165.8 174.0L167.5 175.6L168.2 177.3L167.4 177.8L169.9 178.9L169.7 179.7L171.4 179.7L172.2 180.4L174.3 179.7L175.1 179.7L176.4 179.8L177.3 181.8L180.4 181.1L180.2 180.9L182.6 181.8L182.4 182.9L183.3 185.3L184.8 184.4L186.1 185.3L186.3 187.2L187.4 188.0L185.5 186.4L185.8 185.8L183.9 185.4L181.6 186.3L181.4 187.9L179.1 186.8L177.9 188.4L176.2 187.0L175.8 187.3L173.7 187.3L172.9 186.2L174.2 187.4L174.0 189.0L172.9 190.1L172.8 190.9L174.1 191.9L173.2 193.1L173.4 194.4L175.4 194.8L176.8 195.7L177.3 194.8L179.3 196.6L179.0 197.6L180.7 196.8L181.9 199.5L182.5 200.4L184.4 198.9L184.3 200.0L185.8 200.7L186.8 200.2L188.5 201.4L188.5 202.5L188.5 204.9L188.4 205.2L188.6 206.1L189.8 208.3L190.9 208.7L191.6 210.7L193.2 211.1L192.0 211.4L189.3 211.2L188.9 212.8L187.7 213.3L187.4 213.9L185.6 215.4L184.2 215.9L185.5 217.4L187.4 217.6L188.2 217.2L189.2 217.3L191.0 219.0L190.4 220.4L191.9 222.3L193.0 222.1L193.6 222.4L194.1 224.6L191.9 223.9L193.6 225.9L191.8 226.4L190.4 228.6L189.9 229.3L149.9 269.3L-20.0 260.0L-20.0 40.0Z" fill="#fbfcc9" clip-path="url(#land)"/><path d="M24.7 60.4L26.7 60.6L27.5 59.8L29.1 60.6L30.0 57.8L30.7 56.4L30.8 56.3L32.6 56.8L33.9 56.3L34.3 55.7L36.9 54.7L37.2 55.7L39.6 54.4L39.9 56.0L41.3 56.5L41.9 58.3L42.0 59.8L40.9 59.8L38.5 61.3L38.2 61.9L38.9 63.8L41.0 64.2L40.5 63.4L42.8 62.3L44.3 63.3L44.2 62.4L45.2 62.0L46.7 61.3L48.1 61.3L48.8 59.3L49.8 59.6L51.5 60.8L52.9 60.2L54.2 61.2L53.9 63.0L52.0 63.5L53.5 65.4L51.8 66.7L53.1 66.5L53.3 67.7L52.7 70.3L52.3 70.6L53.4 71.1L53.9 73.0L55.2 74.4L55.7 73.8L57.6 75.3L58.0 75.6L59.1 76.1L59.7 75.4L60.4 77.7L61.4 77.9L61.6 79.5L64.1 79.8L64.7 79.6L66.5 79.5L66.0 80.8L67.9 81.6L67.4 84.2L68.3 84.3L68.5 85.8L68.8 87.6L69.2 88.8L69.4 88.9L70.5 89.8L70.1 92.2L71.3 93.9L72.1 94.2L72.1 95.5L72.6 96.9L73.7 96.6L74.9 97.8L75.0 98.4L76.6 100.7L76.9 100.5L76.5 102.2L79.2 101.7L80.5 101.5L81.0 104.0L81.3 104.7L82.7 105.6L83.8 107.0L84.1 107.2L85.9 106.7L87.8 108.0L86.5 108.5L86.6 111.1L86.1 111.2L87.1 113.0L88.5 114.6L88.8 116.0L88.8 116.8L90.3 117.3L91.3 115.6L92.8 116.4L92.3 118.0L94.4 118.7L94.4 119.0L96.9 120.0L97.9 119.2L99.7 119.7L100.0 120.5L100.5 121.3L101.8 122.2L102.8 122.4L103.0 124.2L105.1 124.4L105.1 124.9L107.1 125.8L107.5 126.4L109.8 127.0L110.3 127.1L111.1 128.5L112.1 129.2L113.6 130.3L114.2 129.6L115.3 130.0L115.9 131.6L118.8 132.4L117.5 134.8L119.3 134.0L119.2 135.3L119.3 136.8L122.0 136.9L123.8 138.2L125.1 138.5L124.0 139.8L125.6 140.6L126.2 140.8L128.2 142.9L128.9 143.5L130.1 143.2L131.6 143.6L131.7 144.0L134.4 145.3L134.3 147.1L134.5 148.4L134.5 148.0L137.0 149.0L135.4 151.5L135.7 151.6L138.1 152.1L139.0 151.6L140.9 153.6L140.3 154.7L141.9 154.2L142.6 155.3L144.0 156.5L144.8 156.1L145.9 159.3L146.9 157.7L148.6 158.8L146.8 160.1L150.2 161.5L148.2 163.0L148.4 163.4L149.2 164.9L151.1 164.9L150.9 167.0L152.2 168.2L153.1 167.2L155.1 165.5L155.7 166.3L157.0 167.3L158.3 168.2L159.7 168.3L160.4 168.4L161.2 169.7L162.1 171.7L163.7 172.7L163.9 172.4L165.0 174.0L165.8 174.0L167.5 175.6L168.2 177.3L167.4 177.8L169.9 178.9L169.7 179.7L171.4 179.7L172.2 180.4L174.3 179.7L175.1 179.7L176.4 179.8L177.3 181.8L180.4 181.1L180.2 180.9L182.6 181.8L182.4 182.9L183.3 185.3L184.8 184.4L186.1 185.3L186.3 187.2L187.4 188.0L185.5 186.4L185.8 185.8L183.9 185.4L181.6 186.3L181.4 187.9L179.1 186.8L177.9 188.4L176.2 187.0L175.8 187.3L173.7 187.3L172.9 186.2L174.2 187.4L174.0 189.0L172.9 190.1L172.8 190.9L174.1 191.9L173.2 193.1L173.4 194.4L175.4 194.8L176.8 195.7L177.3 194.8L179.3 196.6L179.0 197.6L180.7 196.8L181.9 199.5L182.5 200.4L184.4 198.9L184.3 200.0L185.8 200.7L186.8 200.2L188.5 201.4L188.5 202.5L188.5 204.9L188.4 205.2L188.6 206.1L189.8 208.3L190.9 208.7L191.6 210.7L193.2 211.1L192.0 211.4L189.3 211.2L188.9 212.8L187.7 213.3L187.4 213.9L185.6 215.4L184.2 215.9L185.5 217.4L187.4 217.6L188.2 217.2L189.2 217.3L191.0 219.0L190.4 220.4L191.9 222.3L193.0 222.1L193.6 222.4L194.1 224.6L191.9 223.9L193.6 225.9L191.8 226.4L190.4 228.6L189.9 229.3" fill="none" stroke="#309c46" stroke-width="1.05" stroke-linejoin="round" clip-path="url(#land)"/>
<path d="M14.8 67.6L16.1 67.3L17.3 67.0L18.0 65.8L18.6 65.8L19.6 65.1L20.2 64.8L21.6 65.0L22.0 64.6L22.7 64.2L23.8 64.4L24.8 64.5L23.8 64.9L23.4 65.8L22.9 66.3L23.1 67.4L23.1 68.9L22.8 69.8L22.2 71.0L21.1 71.4L20.5 71.1L19.5 70.8L18.1 71.0L17.2 71.2L16.2 70.1L15.7 69.5L15.2 68.4L14.7 67.4Z" fill="#fff" stroke="#309c46" stroke-width="0.8" stroke-linejoin="round"/>
<circle cx="49.5" cy="93.3" r="0.55" fill="#309c46"/><circle cx="59" cy="101" r="0.55" fill="#309c46"/><circle cx="116" cy="137.5" r="0.55" fill="#309c46"/><circle cx="162" cy="190" r="0.55" fill="#309c46"/><circle cx="168" cy="193" r="0.55" fill="#309c46"/>
<path d="M186.0 213.0L187.1 213.4L188.1 212.8L189.1 213.7L190.1 214.0L190.7 214.4L191.3 215.6L191.5 216.1L191.8 216.7" fill="none" stroke="#309c46" stroke-width="0.8"/>
<use href="#gl" stroke="#a8a8a8" stroke-width="1.8"/>
<path d="M194.4 196V221M197.3 199V221" stroke="#3f9a52" stroke-width="0.8" fill="none"/>
<use href="#coast"/>
<circle cx="202.3" cy="212.6" r="1.3" fill="#fbfcc8" stroke="#4aa552" stroke-width="0.5"/>
<rect x="0.5" y="0.5" width="239.2" height="233.5" fill="none" stroke="#3a3a3a" stroke-width="1"/><text transform="translate(7.9 24) scale(0.945 1)" font-size="25" class="s">(C)</text><path d="M18.2 200.5V166.0M10.6 177.8L18.2 165.7L25.799999999999997 177.8" stroke="#000" stroke-width="2.5" fill="none" stroke-linejoin="miter"/><text x="10.799999999999999" y="222.8" font-size="20.8" class="s">N</text><text x="51.3" y="209" font-size="18.4" class="s k" textLength="39.8" lengthAdjust="spacingAndGlyphs">2 km</text><path d="M43.7 217.4H99.4" stroke="#000" stroke-width="2.4"/>
</g>
<g transform="translate(794.6 419)">
<path d="M13.0 60.5L13.4 60.4L14.6 61.4L16.2 63.1L16.8 64.6L18.2 62.8L19.1 66.0L19.8 66.4L22.0 65.4L22.3 67.4L24.1 67.9L24.6 66.8L25.5 67.9L27.3 67.1L28.7 69.0L29.1 68.9L31.2 70.3L30.8 71.0L32.7 71.6L33.1 72.8L35.5 72.7L36.2 73.8L37.6 72.9L39.4 74.3L39.8 75.0L41.4 76.2L41.3 77.2L43.2 78.6L44.4 78.4L45.0 77.9L46.0 79.7L45.8 80.8L48.8 81.5L47.8 82.8L50.0 83.7L51.4 84.2L51.3 85.2L52.1 85.7L52.6 87.8L52.7 89.1L53.9 89.5L55.6 89.8L55.2 91.2L56.8 91.4L57.6 92.5L60.0 92.7L60.5 94.0L60.6 96.0L61.8 96.1L63.3 96.6L63.6 97.3L64.1 99.0L65.4 98.5L65.9 100.0L67.4 101.3L68.0 101.0L69.0 102.3L69.5 102.6L71.0 103.8L71.5 104.4L72.1 105.3L74.0 106.4L74.7 107.4L77.0 107.2L76.7 107.7L77.9 108.9L78.6 110.1L79.3 110.4L79.9 113.2L79.7 113.2L80.8 114.2L81.9 114.5L81.5 116.0L79.3 117.9L39.3 157.9L-20.0 260.0L-20.0 40.0Z" fill="#fbfcc9" clip-path="url(#land)"/><path d="M13.0 60.5L13.4 60.4L14.6 61.4L16.2 63.1L16.8 64.6L18.2 62.8L19.1 66.0L19.8 66.4L22.0 65.4L22.3 67.4L24.1 67.9L24.6 66.8L25.5 67.9L27.3 67.1L28.7 69.0L29.1 68.9L31.2 70.3L30.8 71.0L32.7 71.6L33.1 72.8L35.5 72.7L36.2 73.8L37.6 72.9L39.4 74.3L39.8 75.0L41.4 76.2L41.3 77.2L43.2 78.6L44.4 78.4L45.0 77.9L46.0 79.7L45.8 80.8L48.8 81.5L47.8 82.8L50.0 83.7L51.4 84.2L51.3 85.2L52.1 85.7L52.6 87.8L52.7 89.1L53.9 89.5L55.6 89.8L55.2 91.2L56.8 91.4L57.6 92.5L60.0 92.7L60.5 94.0L60.6 96.0L61.8 96.1L63.3 96.6L63.6 97.3L64.1 99.0L65.4 98.5L65.9 100.0L67.4 101.3L68.0 101.0L69.0 102.3L69.5 102.6L71.0 103.8L71.5 104.4L72.1 105.3L74.0 106.4L74.7 107.4L77.0 107.2L76.7 107.7L77.9 108.9L78.6 110.1L79.3 110.4L79.9 113.2L79.7 113.2L80.8 114.2L81.9 114.5L81.5 116.0L79.3 117.9" fill="none" stroke="#309c46" stroke-width="1.05" stroke-linejoin="round" clip-path="url(#land)"/>
<path d="M94.0 125.5L94.9 123.8L95.7 124.5L97.1 125.1L98.4 125.5L100.0 124.9L100.5 125.2L101.6 126.6L104.4 126.6L105.3 125.8L106.5 127.4L108.1 127.1L108.8 128.3L108.5 129.9L109.5 130.7L111.2 129.9L112.7 130.8L113.5 133.2L113.5 134.5L115.8 133.4L115.4 134.3L117.0 135.6L118.0 135.7L118.9 138.2L120.5 137.9L120.8 138.9L123.6 138.7L123.8 138.7L123.6 141.4L124.5 141.7L126.0 143.0L127.6 142.3L127.9 145.7L128.8 146.3L128.1 146.8L129.8 147.5L131.7 149.2L132.2 148.9L132.9 150.2L134.8 151.0L134.3 152.5L135.2 153.5L135.7 154.1L137.4 155.6L137.9 156.5L138.0 156.9L140.1 157.8L140.8 159.6L141.5 160.8L140.1 161.6L141.5 162.8L142.3 164.0L142.9 165.0L144.9 165.2L145.0 167.4L146.4 167.7L146.3 169.8L146.7 168.2L148.2 169.6L149.7 168.9L150.9 171.3L151.4 172.2L152.7 172.5L152.7 172.2L154.2 172.8L155.0 174.9L155.8 174.5L156.9 175.5L158.7 176.2L158.4 176.4L158.6 178.4L158.4 179.6L161.5 180.7L162.6 179.5L163.8 180.6L164.1 180.8L164.7 183.2L165.9 184.8L166.2 184.9L165.9 187.0L164.7 187.8L164.5 188.4L162.1 189.0L163.8 189.1L165.1 190.2L166.0 191.7L167.2 191.6L168.4 191.2L167.7 193.3L169.8 192.8L170.3 194.1L172.3 194.5L173.1 194.1L173.4 195.6L175.8 196.2L175.8 197.2L177.7 197.7L178.0 198.2L178.1 199.0L180.0 200.7L179.3 201.3L181.1 203.1L181.9 203.3L182.6 204.3L183.0 205.7L182.9 206.9L185.1 206.1L186.0 207.9L186.6 208.1L186.8 209.3L185.8 210.0L184.5 211.8L184.7 213.2L184.7 215.2L183.3 215.6L182.0 216.6L183.9 217.3L183.4 217.6L184.8 219.7L185.8 218.9L185.8 220.5L185.8 221.9L185.4 223.5L184.8 224.7L144.8 264.7L-20.0 260.0L-20.0 40.0Z" fill="#fbfcc9" clip-path="url(#land)"/><path d="M94.0 125.5L94.9 123.8L95.7 124.5L97.1 125.1L98.4 125.5L100.0 124.9L100.5 125.2L101.6 126.6L104.4 126.6L105.3 125.8L106.5 127.4L108.1 127.1L108.8 128.3L108.5 129.9L109.5 130.7L111.2 129.9L112.7 130.8L113.5 133.2L113.5 134.5L115.8 133.4L115.4 134.3L117.0 135.6L118.0 135.7L118.9 138.2L120.5 137.9L120.8 138.9L123.6 138.7L123.8 138.7L123.6 141.4L124.5 141.7L126.0 143.0L127.6 142.3L127.9 145.7L128.8 146.3L128.1 146.8L129.8 147.5L131.7 149.2L132.2 148.9L132.9 150.2L134.8 151.0L134.3 152.5L135.2 153.5L135.7 154.1L137.4 155.6L137.9 156.5L138.0 156.9L140.1 157.8L140.8 159.6L141.5 160.8L140.1 161.6L141.5 162.8L142.3 164.0L142.9 165.0L144.9 165.2L145.0 167.4L146.4 167.7L146.3 169.8L146.7 168.2L148.2 169.6L149.7 168.9L150.9 171.3L151.4 172.2L152.7 172.5L152.7 172.2L154.2 172.8L155.0 174.9L155.8 174.5L156.9 175.5L158.7 176.2L158.4 176.4L158.6 178.4L158.4 179.6L161.5 180.7L162.6 179.5L163.8 180.6L164.1 180.8L164.7 183.2L165.9 184.8L166.2 184.9L165.9 187.0L164.7 187.8L164.5 188.4L162.1 189.0L163.8 189.1L165.1 190.2L166.0 191.7L167.2 191.6L168.4 191.2L167.7 193.3L169.8 192.8L170.3 194.1L172.3 194.5L173.1 194.1L173.4 195.6L175.8 196.2L175.8 197.2L177.7 197.7L178.0 198.2L178.1 199.0L180.0 200.7L179.3 201.3L181.1 203.1L181.9 203.3L182.6 204.3L183.0 205.7L182.9 206.9L185.1 206.1L186.0 207.9L186.6 208.1L186.8 209.3L185.8 210.0L184.5 211.8L184.7 213.2L184.7 215.2L183.3 215.6L182.0 216.6L183.9 217.3L183.4 217.6L184.8 219.7L185.8 218.9L185.8 220.5L185.8 221.9L185.4 223.5L184.8 224.7" fill="none" stroke="#309c46" stroke-width="1.05" stroke-linejoin="round" clip-path="url(#land)"/>
<path d="M14.8 64.5L16.0 64.5L17.1 64.4L18.0 63.6L18.6 63.7L19.9 63.5L20.8 63.4L22.1 63.9L22.8 63.8L23.9 64.0L24.9 64.9L23.9 64.8L22.7 65.3L21.8 65.8L21.0 66.3L20.2 66.7L19.0 67.1L18.1 67.1L17.0 67.0L15.8 67.0L15.3 66.6L15.1 65.8L14.8 64.5Z" fill="#fff" stroke="#309c46" stroke-width="0.8" stroke-linejoin="round"/>
<path d="M100.0 126.0L101.2 126.6L100.9 127.3L102.7 128.5L103.1 128.5L104.0 129.0L105.4 130.1L106.7 130.2L107.1 130.3L108.2 130.9L109.2 132.1L109.9 132.8L110.2 134.1L111.2 133.2L111.4 135.4L112.9 135.8L113.6 135.1L114.0 137.1L114.6 137.1L115.1 138.2L115.8 139.1L116.8 139.7L117.8 140.6L119.0 140.2L119.5 141.9L119.6 141.6L119.6 143.3L121.7 144.1L123.3 143.8L123.4 145.1L123.3 145.8L125.2 145.5L125.3 146.9L126.0 148.2L126.8 149.2L126.3 149.7L127.9 150.2L128.8 150.5L129.6 152.3L129.8 152.4L130.7 153.0L132.6 153.5L133.0 154.4L133.5 155.4L134.4 155.0L134.4 156.7L135.2 157.8L135.7 157.7" fill="none" stroke="#309c46" stroke-width="0.8"/>
<path d="M148.0 173.0L148.8 173.4L149.8 174.2L149.9 174.4L151.1 174.8L152.1 176.2L152.7 177.2L152.3 177.7L153.7 178.0L154.8 178.3L155.4 179.5L155.5 180.7L157.1 181.4L157.4 181.7L158.9 182.1L159.7 183.1L160.1 183.9" fill="none" stroke="#309c46" stroke-width="0.8"/>
<path d="M60.0 96.0L60.2 97.0L61.2 97.8L61.8 97.8L62.0 98.8L63.2 98.8L63.9 99.4L65.0 100.4" fill="none" stroke="#309c46" stroke-width="0.8"/>
<circle cx="159.5" cy="171.5" r="1" fill="none" stroke="#309c46" stroke-width="0.6"/><circle cx="137" cy="155" r="1.2" fill="none" stroke="#309c46" stroke-width="0.6"/>
<use href="#gl" stroke="#a8a8a8" stroke-width="1.8"/>
<path d="M194.4 196V221M197.3 199V221" stroke="#3f9a52" stroke-width="0.8" fill="none"/>
<use href="#coast"/>
<circle cx="202.3" cy="212.6" r="1.3" fill="#fbfcc8" stroke="#4aa552" stroke-width="0.5"/>
<rect x="0.5" y="0.5" width="239.2" height="233.5" fill="none" stroke="#3a3a3a" stroke-width="1"/><text transform="translate(7.9 24) scale(0.945 1)" font-size="25" class="s">(D)</text><path d="M18.2 199.2V164.7M10.6 176.5L18.2 164.39999999999998L25.799999999999997 176.5" stroke="#000" stroke-width="2.5" fill="none" stroke-linejoin="miter"/><text x="10.799999999999999" y="221.5" font-size="20.8" class="s">N</text><text x="51.3" y="208.2" font-size="18.4" class="s k" textLength="39.8" lengthAdjust="spacingAndGlyphs">2 km</text><path d="M43.7 216.6H99.4" stroke="#000" stroke-width="2.4"/>
</g>
<g transform="translate(48 663)">
<path d="M13.0 60.5L14.2 60.1L15.4 59.1L16.1 60.4L16.6 58.6L18.5 59.3L18.4 58.7L20.4 61.4L20.8 59.9L22.9 60.3L23.7 60.1L23.9 61.0L24.9 60.2L26.4 58.9L26.5 60.5L25.4 61.8L25.4 63.0L25.9 64.6L24.5 65.1L24.9 66.1L23.2 65.7L22.6 67.7L22.5 68.1L22.2 68.7L23.0 70.3L24.7 70.4L24.0 72.2L24.8 71.5L24.8 74.1L26.4 75.3L27.8 75.5L29.0 76.5L29.1 75.4L29.9 75.3L31.7 76.7L32.6 75.1L33.4 75.3L36.0 75.1L35.6 77.1L36.8 77.3L37.7 76.1L39.5 78.0L40.3 77.9L41.3 78.1L41.5 78.3L42.7 79.0L45.4 78.6L45.8 77.9L46.6 79.9L47.2 76.9L49.7 76.7L50.2 77.0L50.8 77.3L52.0 76.0L52.6 77.4L54.1 79.2L55.4 78.4L55.8 79.1L57.7 80.1L58.4 80.9L56.8 81.6L57.2 83.8L57.2 84.0L57.1 85.3L58.8 86.0L60.6 87.1L62.2 86.8L62.3 85.7L62.5 88.8L64.1 88.9L64.0 89.8L64.9 90.0L65.6 92.1L64.8 93.0L66.2 93.4L65.3 94.7L67.6 95.5L67.3 97.1L68.4 98.1L68.3 98.0L70.2 98.6L72.3 100.5L72.2 97.6L73.8 97.1L75.6 97.8L75.1 98.6L74.1 100.2L75.5 101.9L75.5 102.4L76.2 103.0L77.0 104.8L78.3 106.1L78.3 106.6L79.3 106.9L80.4 108.7L80.2 110.0L80.9 110.0L81.1 111.5L81.3 112.3L82.4 111.4L82.3 113.0L83.3 115.2L85.2 113.4L86.5 115.1L87.0 117.1L87.3 115.2L88.9 117.3L90.8 115.7L90.6 117.3L91.3 117.6L93.1 117.6L93.0 118.0L93.6 119.2L95.4 118.1L96.4 120.4L98.7 119.8L98.6 121.0L98.1 121.7L99.0 122.1L100.7 123.3L101.5 123.6L100.9 125.1L100.2 124.6L98.7 125.6L97.8 125.9L98.1 128.1L58.1 168.1L-20.0 260.0L-20.0 40.0Z" fill="#0a5a30" clip-path="url(#land)"/>
<path d="M151.0 186.5L151.6 186.7L152.7 187.4L154.7 187.8L155.3 187.6L156.4 188.8L156.7 189.1L158.0 189.8L159.4 190.1L160.9 190.7L161.3 191.4L162.0 191.6L163.1 192.7L164.4 192.6L165.8 192.0L166.2 193.4L167.5 193.8L167.8 194.7L168.9 195.5L169.8 196.3L171.2 196.7L171.4 197.1L172.1 198.3L173.7 198.7L173.9 199.0L174.7 199.4L176.1 200.4L176.8 201.0L177.4 202.1L177.9 203.2L178.4 203.8L178.4 205.1L179.1 205.7L179.8 206.9L181.1 207.0L181.3 207.8L182.0 208.7L182.8 209.5L184.4 209.4L184.4 210.8L184.7 212.0L183.8 213.8L183.7 214.4L183.9 215.3L184.2 217.1L184.2 217.7L185.0 218.5L185.3 220.4L185.3 221.0L185.3 222.0L185.1 222.4L184.8 224.4L185.6 224.5L186.3 226.4L187.6 226.8L187.9 228.3L188.6 229.2L188.5 229.9L148.5 269.9L-20.0 260.0L-20.0 40.0Z" fill="#0a5a30" clip-path="url(#land)"/>
<path d="M186 224L192 221.5L194.5 221.6L188.6 230.3Z" fill="#0a5a30"/>
<g fill="#0a5a30" clip-path="url(#land)"><ellipse cx="99.9" cy="119.8" rx="2.38" ry="1.83" transform="rotate(39 99.9 119.8)"/><ellipse cx="103.2" cy="119.7" rx="0.90" ry="0.70" transform="rotate(58 103.2 119.7)"/><ellipse cx="95.5" cy="119.8" rx="1.27" ry="0.98" transform="rotate(10 95.5 119.8)"/><ellipse cx="27.5" cy="71.2" rx="1.82" ry="1.40" transform="rotate(27 27.5 71.2)"/><ellipse cx="72.7" cy="94.7" rx="2.46" ry="1.89" transform="rotate(2 72.7 94.7)"/><ellipse cx="62.4" cy="82.8" rx="1.96" ry="1.51" transform="rotate(33 62.4 82.8)"/><ellipse cx="70.1" cy="91.8" rx="1.20" ry="0.92" transform="rotate(30 70.1 91.8)"/><ellipse cx="32.6" cy="75.1" rx="1.36" ry="1.05" transform="rotate(-12 32.6 75.1)"/><ellipse cx="39.6" cy="73.2" rx="2.47" ry="1.90" transform="rotate(-8 39.6 73.2)"/><ellipse cx="61.5" cy="87.5" rx="1.48" ry="1.14" transform="rotate(16 61.5 87.5)"/><ellipse cx="42.7" cy="75.4" rx="2.11" ry="1.63" transform="rotate(-7 42.7 75.4)"/><ellipse cx="63.3" cy="86.8" rx="2.34" ry="1.80" transform="rotate(30 63.3 86.8)"/><ellipse cx="24.5" cy="69.3" rx="2.31" ry="1.78" transform="rotate(89 24.5 69.3)"/><ellipse cx="27.8" cy="70.7" rx="1.82" ry="1.40" transform="rotate(-1 27.8 70.7)"/><ellipse cx="81.5" cy="107.4" rx="2.16" ry="1.66" transform="rotate(70 81.5 107.4)"/><ellipse cx="59.7" cy="85.4" rx="1.07" ry="0.82" transform="rotate(36 59.7 85.4)"/><ellipse cx="68.0" cy="91.1" rx="1.54" ry="1.18" transform="rotate(47 68.0 91.1)"/><ellipse cx="83.3" cy="109.6" rx="0.84" ry="0.65" transform="rotate(70 83.3 109.6)"/><ellipse cx="57.9" cy="79.0" rx="1.54" ry="1.19" transform="rotate(51 57.9 79.0)"/><ellipse cx="25.5" cy="72.3" rx="2.47" ry="1.90" transform="rotate(18 25.5 72.3)"/><ellipse cx="85.4" cy="112.3" rx="1.51" ry="1.16" transform="rotate(13 85.4 112.3)"/><ellipse cx="72.4" cy="95.9" rx="1.37" ry="1.05" transform="rotate(-3 72.4 95.9)"/><ellipse cx="79.3" cy="102.4" rx="0.78" ry="0.60" transform="rotate(67 79.3 102.4)"/><ellipse cx="78.4" cy="98.3" rx="0.88" ry="0.67" transform="rotate(91 78.4 98.3)"/><ellipse cx="101.1" cy="125.4" rx="1.80" ry="1.39" transform="rotate(103 101.1 125.4)"/><ellipse cx="59.0" cy="80.5" rx="1.28" ry="0.98" transform="rotate(73 59.0 80.5)"/><ellipse cx="83.3" cy="110.5" rx="1.39" ry="1.07" transform="rotate(36 83.3 110.5)"/><ellipse cx="59.4" cy="81.2" rx="1.53" ry="1.18" transform="rotate(96 59.4 81.2)"/><ellipse cx="70.4" cy="97.2" rx="2.33" ry="1.79" transform="rotate(-21 70.4 97.2)"/><ellipse cx="80.2" cy="102.5" rx="2.24" ry="1.72" transform="rotate(73 80.2 102.5)"/><ellipse cx="52.7" cy="74.0" rx="1.79" ry="1.37" transform="rotate(-0 52.7 74.0)"/><ellipse cx="27.6" cy="73.8" rx="1.11" ry="0.85" transform="rotate(-5 27.6 73.8)"/><ellipse cx="64.9" cy="89.2" rx="2.49" ry="1.92" transform="rotate(64 64.9 89.2)"/><ellipse cx="80.5" cy="108.9" rx="1.27" ry="0.98" transform="rotate(79 80.5 108.9)"/><ellipse cx="72.5" cy="96.3" rx="1.53" ry="1.18" transform="rotate(-12 72.5 96.3)"/><ellipse cx="62.2" cy="86.9" rx="0.83" ry="0.64" transform="rotate(19 62.2 86.9)"/><ellipse cx="76.6" cy="101.4" rx="2.21" ry="1.70" transform="rotate(73 76.6 101.4)"/><ellipse cx="38.1" cy="76.9" rx="1.35" ry="1.04" transform="rotate(2 38.1 76.9)"/><ellipse cx="38.6" cy="74.6" rx="1.32" ry="1.01" transform="rotate(39 38.6 74.6)"/><ellipse cx="54.4" cy="77.0" rx="2.21" ry="1.70" transform="rotate(22 54.4 77.0)"/><ellipse cx="89.4" cy="111.8" rx="1.70" ry="1.31" transform="rotate(-1 89.4 111.8)"/><ellipse cx="40.0" cy="73.8" rx="1.04" ry="0.80" transform="rotate(-1 40.0 73.8)"/><ellipse cx="30.8" cy="74.7" rx="2.17" ry="1.67" transform="rotate(-17 30.8 74.7)"/><ellipse cx="29.2" cy="71.6" rx="1.23" ry="0.95" transform="rotate(12 29.2 71.6)"/><ellipse cx="24.7" cy="71.0" rx="0.82" ry="0.63" transform="rotate(94 24.7 71.0)"/><ellipse cx="48.4" cy="75.0" rx="0.91" ry="0.70" transform="rotate(18 48.4 75.0)"/><ellipse cx="70.5" cy="94.1" rx="0.92" ry="0.71" transform="rotate(-24 70.5 94.1)"/><ellipse cx="89.2" cy="113.7" rx="0.87" ry="0.67" transform="rotate(34 89.2 113.7)"/><ellipse cx="55.7" cy="76.6" rx="1.87" ry="1.44" transform="rotate(38 55.7 76.6)"/><ellipse cx="60.6" cy="81.4" rx="2.14" ry="1.64" transform="rotate(99 60.6 81.4)"/><ellipse cx="49.9" cy="75.2" rx="1.12" ry="0.86" transform="rotate(-24 49.9 75.2)"/><ellipse cx="52.0" cy="77.5" rx="2.22" ry="1.71" transform="rotate(-20 52.0 77.5)"/><ellipse cx="84.5" cy="112.6" rx="1.10" ry="0.85" transform="rotate(33 84.5 112.6)"/><ellipse cx="70.1" cy="94.9" rx="2.23" ry="1.71" transform="rotate(42 70.1 94.9)"/><ellipse cx="46.6" cy="76.6" rx="1.74" ry="1.34" transform="rotate(7 46.6 76.6)"/><ellipse cx="30.2" cy="70.7" rx="1.10" ry="0.84" transform="rotate(22 30.2 70.7)"/><ellipse cx="86.4" cy="110.4" rx="2.55" ry="1.96" transform="rotate(8 86.4 110.4)"/><ellipse cx="79.9" cy="107.8" rx="2.02" ry="1.55" transform="rotate(80 79.9 107.8)"/><ellipse cx="89.0" cy="116.7" rx="1.23" ry="0.95" transform="rotate(34 89.0 116.7)"/><ellipse cx="44.7" cy="74.6" rx="1.49" ry="1.15" transform="rotate(-9 44.7 74.6)"/></g>
<g fill="#0a5a30" clip-path="url(#land)"><ellipse cx="104.5" cy="129.3" rx="0.62" ry="0.62" transform="rotate(19 104.5 129.3)"/><ellipse cx="105.8" cy="129.3" rx="0.42" ry="0.42" transform="rotate(50 105.8 129.3)"/><ellipse cx="101.8" cy="126.1" rx="0.67" ry="0.67" transform="rotate(37 101.8 126.1)"/><ellipse cx="106.8" cy="130.0" rx="0.79" ry="0.79" transform="rotate(21 106.8 130.0)"/></g>
<g fill="#f3f7bf" clip-path="url(#land)"><ellipse cx="54.4" cy="89.0" rx="1.05" ry="0.58" transform="rotate(60 54.4 89.0)"/><ellipse cx="98.1" cy="123.5" rx="0.63" ry="0.35" transform="rotate(17 98.1 123.5)"/><ellipse cx="91.1" cy="118.1" rx="0.75" ry="0.41" transform="rotate(6 91.1 118.1)"/><ellipse cx="45.5" cy="80.8" rx="0.98" ry="0.54" transform="rotate(8 45.5 80.8)"/><ellipse cx="92.2" cy="121.5" rx="0.69" ry="0.38" transform="rotate(34 92.2 121.5)"/><ellipse cx="72.9" cy="103.9" rx="1.05" ry="0.58" transform="rotate(70 72.9 103.9)"/><ellipse cx="27.4" cy="78.8" rx="1.42" ry="0.79" transform="rotate(-16 27.4 78.8)"/><ellipse cx="100.4" cy="125.1" rx="0.78" ry="0.43" transform="rotate(49 100.4 125.1)"/><ellipse cx="50.5" cy="79.7" rx="0.92" ry="0.51" transform="rotate(0 50.5 79.7)"/><ellipse cx="52.6" cy="82.5" rx="0.54" ry="0.30" transform="rotate(47 52.6 82.5)"/><ellipse cx="59.6" cy="91.7" rx="0.57" ry="0.32" transform="rotate(48 59.6 91.7)"/><ellipse cx="74.5" cy="100.9" rx="0.55" ry="0.30" transform="rotate(1 74.5 100.9)"/><ellipse cx="34.5" cy="81.0" rx="1.26" ry="0.70" transform="rotate(10 34.5 81.0)"/><ellipse cx="77.6" cy="108.2" rx="0.97" ry="0.54" transform="rotate(42 77.6 108.2)"/><ellipse cx="88.9" cy="120.4" rx="1.40" ry="0.78" transform="rotate(32 88.9 120.4)"/><ellipse cx="63.8" cy="98.9" rx="0.74" ry="0.41" transform="rotate(34 63.8 98.9)"/><ellipse cx="84.4" cy="120.4" rx="0.95" ry="0.53" transform="rotate(32 84.4 120.4)"/><ellipse cx="71.3" cy="103.1" rx="0.91" ry="0.50" transform="rotate(91 71.3 103.1)"/><ellipse cx="89.1" cy="117.6" rx="0.60" ry="0.34" transform="rotate(1 89.1 117.6)"/><ellipse cx="42.1" cy="78.6" rx="0.71" ry="0.39" transform="rotate(-11 42.1 78.6)"/><ellipse cx="55.5" cy="83.1" rx="0.66" ry="0.37" transform="rotate(105 55.5 83.1)"/><ellipse cx="62.6" cy="92.3" rx="0.68" ry="0.38" transform="rotate(70 62.6 92.3)"/><ellipse cx="32.6" cy="79.6" rx="1.19" ry="0.66" transform="rotate(10 32.6 79.6)"/><ellipse cx="96.5" cy="123.2" rx="1.25" ry="0.70" transform="rotate(108 96.5 123.2)"/><ellipse cx="72.8" cy="103.8" rx="0.87" ry="0.49" transform="rotate(48 72.8 103.8)"/><ellipse cx="32.0" cy="79.4" rx="1.12" ry="0.62" transform="rotate(45 32.0 79.4)"/><ellipse cx="73.8" cy="102.3" rx="0.84" ry="0.46" transform="rotate(-22 73.8 102.3)"/><ellipse cx="59.4" cy="90.1" rx="0.73" ry="0.41" transform="rotate(33 59.4 90.1)"/><ellipse cx="42.7" cy="82.0" rx="0.70" ry="0.39" transform="rotate(26 42.7 82.0)"/><ellipse cx="39.9" cy="79.1" rx="0.73" ry="0.41" transform="rotate(-16 39.9 79.1)"/><ellipse cx="58.9" cy="92.5" rx="0.57" ry="0.31" transform="rotate(54 58.9 92.5)"/><ellipse cx="30.5" cy="77.7" rx="0.88" ry="0.49" transform="rotate(-15 30.5 77.7)"/><ellipse cx="71.7" cy="99.4" rx="1.03" ry="0.57" transform="rotate(10 71.7 99.4)"/><ellipse cx="66.8" cy="96.3" rx="0.70" ry="0.39" transform="rotate(65 66.8 96.3)"/><ellipse cx="36.3" cy="77.0" rx="1.32" ry="0.73" transform="rotate(-2 36.3 77.0)"/><ellipse cx="93.8" cy="119.9" rx="1.42" ry="0.79" transform="rotate(15 93.8 119.9)"/><ellipse cx="27.4" cy="75.9" rx="1.20" ry="0.67" transform="rotate(-20 27.4 75.9)"/><ellipse cx="41.0" cy="79.6" rx="1.14" ry="0.63" transform="rotate(18 41.0 79.6)"/><ellipse cx="86.6" cy="121.5" rx="1.40" ry="0.78" transform="rotate(1 86.6 121.5)"/><ellipse cx="47.0" cy="83.5" rx="1.37" ry="0.76" transform="rotate(-6 47.0 83.5)"/><ellipse cx="59.3" cy="92.1" rx="0.76" ry="0.42" transform="rotate(39 59.3 92.1)"/><ellipse cx="71.3" cy="102.7" rx="1.33" ry="0.74" transform="rotate(9 71.3 102.7)"/><ellipse cx="61.0" cy="91.8" rx="0.74" ry="0.41" transform="rotate(13 61.0 91.8)"/><ellipse cx="65.6" cy="94.3" rx="0.69" ry="0.39" transform="rotate(67 65.6 94.3)"/><ellipse cx="64.7" cy="96.9" rx="0.89" ry="0.50" transform="rotate(29 64.7 96.9)"/><ellipse cx="62.8" cy="95.3" rx="0.57" ry="0.32" transform="rotate(42 62.8 95.3)"/><ellipse cx="29.1" cy="77.4" rx="1.34" ry="0.75" transform="rotate(-11 29.1 77.4)"/><ellipse cx="86.8" cy="120.9" rx="1.17" ry="0.65" transform="rotate(4 86.8 120.9)"/><ellipse cx="53.7" cy="82.2" rx="0.84" ry="0.47" transform="rotate(-9 53.7 82.2)"/><ellipse cx="28.2" cy="75.3" rx="0.56" ry="0.31" transform="rotate(22 28.2 75.3)"/><ellipse cx="58.7" cy="89.8" rx="0.59" ry="0.33" transform="rotate(20 58.7 89.8)"/><ellipse cx="88.1" cy="117.1" rx="0.61" ry="0.34" transform="rotate(18 88.1 117.1)"/><ellipse cx="70.5" cy="103.7" rx="0.85" ry="0.47" transform="rotate(83 70.5 103.7)"/><ellipse cx="62.4" cy="91.0" rx="0.72" ry="0.40" transform="rotate(68 62.4 91.0)"/><ellipse cx="63.6" cy="93.0" rx="1.28" ry="0.71" transform="rotate(69 63.6 93.0)"/><ellipse cx="46.9" cy="83.6" rx="1.36" ry="0.75" transform="rotate(-13 46.9 83.6)"/><ellipse cx="72.4" cy="101.9" rx="0.55" ry="0.31" transform="rotate(49 72.4 101.9)"/><ellipse cx="51.8" cy="82.0" rx="0.90" ry="0.50" transform="rotate(82 51.8 82.0)"/><ellipse cx="29.9" cy="76.5" rx="0.59" ry="0.33" transform="rotate(11 29.9 76.5)"/><ellipse cx="34.8" cy="82.0" rx="0.73" ry="0.41" transform="rotate(43 34.8 82.0)"/></g>
<path d="M15.6 67.3L16.5 67.0L18.0 66.5L19.1 66.4L20.4 66.9L21.4 67.1L21.9 67.7L23.1 67.1L22.4 68.1L22.5 68.6L22.4 70.0L22.0 70.5L20.5 70.4L19.5 70.4L19.0 70.5L18.0 70.9L17.1 70.8L16.1 70.1L15.6 68.9L15.7 68.2L15.6 67.0Z" fill="#fbfde0"/>
<g fill="#f3f7bf" clip-path="url(#land)"><ellipse cx="178.3" cy="203.9" rx="1.15" ry="0.64" transform="rotate(-38 178.3 203.9)"/><ellipse cx="178.0" cy="207.7" rx="1.08" ry="0.60" transform="rotate(-52 178.0 207.7)"/><ellipse cx="184.3" cy="216.9" rx="0.60" ry="0.34" transform="rotate(-17 184.3 216.9)"/><ellipse cx="158.6" cy="193.1" rx="1.16" ry="0.64" transform="rotate(-48 158.6 193.1)"/><ellipse cx="153.9" cy="188.7" rx="0.78" ry="0.43" transform="rotate(-50 153.9 188.7)"/><ellipse cx="182.6" cy="211.8" rx="1.20" ry="0.67" transform="rotate(-47 182.6 211.8)"/><ellipse cx="164.9" cy="195.3" rx="1.16" ry="0.65" transform="rotate(-56 164.9 195.3)"/><ellipse cx="166.5" cy="196.5" rx="0.87" ry="0.49" transform="rotate(-39 166.5 196.5)"/><ellipse cx="181.6" cy="212.1" rx="1.14" ry="0.63" transform="rotate(-41 181.6 212.1)"/><ellipse cx="158.2" cy="192.5" rx="0.72" ry="0.40" transform="rotate(-62 158.2 192.5)"/><ellipse cx="181.4" cy="215.4" rx="0.57" ry="0.32" transform="rotate(-52 181.4 215.4)"/><ellipse cx="171.6" cy="199.5" rx="1.06" ry="0.59" transform="rotate(-50 171.6 199.5)"/><ellipse cx="154.1" cy="189.1" rx="0.87" ry="0.48" transform="rotate(-36 154.1 189.1)"/><ellipse cx="183.4" cy="215.1" rx="0.63" ry="0.35" transform="rotate(-26 183.4 215.1)"/><ellipse cx="174.8" cy="202.2" rx="1.30" ry="0.72" transform="rotate(-31 174.8 202.2)"/><ellipse cx="154.1" cy="190.8" rx="0.55" ry="0.31" transform="rotate(-25 154.1 190.8)"/><ellipse cx="182.1" cy="210.5" rx="0.97" ry="0.54" transform="rotate(-60 182.1 210.5)"/><ellipse cx="181.4" cy="209.6" rx="0.78" ry="0.43" transform="rotate(-42 181.4 209.6)"/><ellipse cx="178.8" cy="209.5" rx="1.30" ry="0.72" transform="rotate(-23 178.8 209.5)"/><ellipse cx="178.1" cy="204.7" rx="0.98" ry="0.54" transform="rotate(-54 178.1 204.7)"/><ellipse cx="182.2" cy="219.5" rx="1.23" ry="0.68" transform="rotate(-49 182.2 219.5)"/><ellipse cx="151.1" cy="188.7" rx="1.28" ry="0.71" transform="rotate(-48 151.1 188.7)"/><ellipse cx="184.6" cy="217.8" rx="0.61" ry="0.34" transform="rotate(-22 184.6 217.8)"/><ellipse cx="176.4" cy="205.1" rx="0.59" ry="0.33" transform="rotate(-42 176.4 205.1)"/><ellipse cx="162.4" cy="192.0" rx="0.57" ry="0.32" transform="rotate(-35 162.4 192.0)"/><ellipse cx="176.9" cy="202.7" rx="0.54" ry="0.30" transform="rotate(-40 176.9 202.7)"/><ellipse cx="165.0" cy="195.6" rx="0.83" ry="0.46" transform="rotate(-23 165.0 195.6)"/><ellipse cx="177.0" cy="205.1" rx="0.69" ry="0.38" transform="rotate(-55 177.0 205.1)"/><ellipse cx="179.8" cy="206.3" rx="0.59" ry="0.33" transform="rotate(-29 179.8 206.3)"/><ellipse cx="173.9" cy="199.4" rx="1.06" ry="0.59" transform="rotate(-20 173.9 199.4)"/><ellipse cx="154.4" cy="190.4" rx="0.97" ry="0.54" transform="rotate(-35 154.4 190.4)"/><ellipse cx="166.7" cy="197.9" rx="0.80" ry="0.44" transform="rotate(-50 166.7 197.9)"/><ellipse cx="163.3" cy="195.3" rx="0.77" ry="0.43" transform="rotate(-61 163.3 195.3)"/><ellipse cx="181.5" cy="207.8" rx="0.60" ry="0.33" transform="rotate(-38 181.5 207.8)"/></g>
<g fill="#0a5a30" clip-path="url(#land)"><ellipse cx="125.2" cy="151.7" rx="0.57" ry="0.57" transform="rotate(-30 125.2 151.7)"/><ellipse cx="125.4" cy="150.1" rx="0.61" ry="0.61" transform="rotate(15 125.4 150.1)"/><ellipse cx="134.4" cy="152.5" rx="1.02" ry="1.02" transform="rotate(57 134.4 152.5)"/><ellipse cx="126.6" cy="150.4" rx="0.82" ry="0.82" transform="rotate(-21 126.6 150.4)"/><ellipse cx="125.6" cy="151.3" rx="0.84" ry="0.84" transform="rotate(-28 125.6 151.3)"/><ellipse cx="133.3" cy="150.4" rx="0.91" ry="0.91" transform="rotate(-3 133.3 150.4)"/><ellipse cx="132.2" cy="150.2" rx="0.73" ry="0.73" transform="rotate(11 132.2 150.2)"/><ellipse cx="127.5" cy="150.9" rx="0.53" ry="0.53" transform="rotate(-14 127.5 150.9)"/><ellipse cx="131.6" cy="150.4" rx="0.63" ry="0.63" transform="rotate(-33 131.6 150.4)"/><ellipse cx="135.8" cy="156.3" rx="0.93" ry="0.93" transform="rotate(-14 135.8 156.3)"/><ellipse cx="125.6" cy="151.1" rx="0.58" ry="0.58" transform="rotate(13 125.6 151.1)"/><ellipse cx="126.7" cy="150.1" rx="0.82" ry="0.82" transform="rotate(-26 126.7 150.1)"/></g>
<g fill="#0a5a30" clip-path="url(#land)"><ellipse cx="149.4" cy="168.2" rx="0.78" ry="0.52" transform="rotate(50 149.4 168.2)"/><ellipse cx="147.5" cy="167.7" rx="0.94" ry="0.62" transform="rotate(78 147.5 167.7)"/><ellipse cx="150.5" cy="170.2" rx="1.18" ry="0.78" transform="rotate(23 150.5 170.2)"/><ellipse cx="147.9" cy="166.9" rx="1.02" ry="0.68" transform="rotate(37 147.9 166.9)"/><ellipse cx="148.6" cy="168.5" rx="0.98" ry="0.66" transform="rotate(68 148.6 168.5)"/><ellipse cx="148.0" cy="167.4" rx="0.83" ry="0.55" transform="rotate(62 148.0 167.4)"/><ellipse cx="148.0" cy="168.0" rx="1.08" ry="0.72" transform="rotate(39 148.0 168.0)"/></g>
<g fill="#0a5a30" clip-path="url(#land)"><ellipse cx="43.8" cy="61.9" rx="0.89" ry="0.89" transform="rotate(92 43.8 61.9)"/><ellipse cx="41.2" cy="55.5" rx="0.89" ry="0.89" transform="rotate(-16 41.2 55.5)"/><ellipse cx="32.1" cy="56.9" rx="0.43" ry="0.43" transform="rotate(14 32.1 56.9)"/><ellipse cx="43.5" cy="65.9" rx="0.84" ry="0.84" transform="rotate(117 43.5 65.9)"/><ellipse cx="38.4" cy="56.0" rx="0.60" ry="0.60" transform="rotate(-24 38.4 56.0)"/><ellipse cx="40.1" cy="56.6" rx="0.76" ry="0.76" transform="rotate(6 40.1 56.6)"/><ellipse cx="44.2" cy="56.9" rx="0.61" ry="0.61" transform="rotate(102 44.2 56.9)"/></g>
<g fill="#0a5a30" clip-path="url(#land)"><ellipse cx="173.3" cy="195.9" rx="0.87" ry="0.62" transform="rotate(20 173.3 195.9)"/><ellipse cx="174.7" cy="197.4" rx="1.21" ry="0.86" transform="rotate(22 174.7 197.4)"/><ellipse cx="179.2" cy="200.7" rx="1.14" ry="0.82" transform="rotate(21 179.2 200.7)"/></g>
<g fill="#0a5a30" clip-path="url(#land)"><ellipse cx="30.2" cy="58.8" rx="0.61" ry="0.41" transform="rotate(-17 30.2 58.8)"/><ellipse cx="32.4" cy="56.8" rx="0.86" ry="0.58" transform="rotate(-15 32.4 56.8)"/><ellipse cx="34.1" cy="55.9" rx="0.45" ry="0.30" transform="rotate(-21 34.1 55.9)"/><ellipse cx="45.0" cy="48.9" rx="0.45" ry="0.30" transform="rotate(-22 45.0 48.9)"/><ellipse cx="37.4" cy="53.2" rx="0.79" ry="0.53" transform="rotate(-11 37.4 53.2)"/><ellipse cx="41.7" cy="51.0" rx="0.46" ry="0.31" transform="rotate(-53 41.7 51.0)"/></g>
<use href="#gl" stroke="#dcdcdc" stroke-width="1.7"/>
<use href="#coast"/>
<path d="M28.4 59.4L21.5 67.8L26.7 67.6L27.3 71.9L31.2 70.2L35.1 75.1L39.7 75.7L43.0 81.3L46.2 81.9L46.9 86.5L52.1 91.7L58.6 94.9L63.8 99.5L65.1 103.4L67.7 102.7L70.9 106.6L75.5 107.3L79.1 115.5" fill="none" stroke="#f0141e" stroke-width="1.6" stroke-linejoin="round" stroke-linecap="round"/>
<path d="M100.2 130.3L106.5 135.3" fill="none" stroke="#f0141e" stroke-width="2.2" stroke-linejoin="round" stroke-linecap="round"/>
<path d="M129.0 160.1L134.4 161.5L138.6 163.9L140.4 168.1L139.5 169.9" fill="none" stroke="#f0141e" stroke-width="1.6" stroke-linejoin="round" stroke-linecap="round"/>
<path d="M152.3 187.1L160.0 188.3L169.5 193.7L176.7 200.8L184.4 206.8L186.2 212.7L178.5 209.1L183.8 215.1L185.6 217.5L185.0 225.2L191.0 222.2L194.5 221.6" fill="none" stroke="#f0141e" stroke-width="1.6" stroke-linejoin="round" stroke-linecap="round"/>
<path d="M179.5 209.5L186 212.5L185 217Z" fill="#f0141e"/>
<rect x="0.5" y="0.5" width="239.2" height="233.5" fill="none" stroke="#3a3a3a" stroke-width="1"/><text transform="translate(7.9 24) scale(0.945 1)" font-size="25" class="s">(E)</text><path d="M19.5 202V167.5M11.9 179.3L19.5 167.2L27.1 179.3" stroke="#000" stroke-width="2.5" fill="none" stroke-linejoin="miter"/><text x="12.1" y="224.3" font-size="20.8" class="s">N</text><text x="53.2" y="210.8" font-size="18.4" class="s k" textLength="39.8" lengthAdjust="spacingAndGlyphs">2 km</text><path d="M45.6 219.4H101.30000000000001" stroke="#000" stroke-width="2.4"/>
</g>
<g transform="translate(296.2 663)">
<path d="M13.0 60.5L13.3 59.7L15.5 60.9L16.5 60.2L17.4 60.8L17.4 60.0L18.3 60.1L19.1 60.4L21.7 60.2L22.3 61.0L23.3 61.0L24.3 61.3L24.7 60.9L25.4 61.4L24.4 62.4L26.2 63.5L26.5 64.7L27.4 65.8L26.6 67.5L25.3 67.9L27.1 68.7L25.4 70.7L25.1 71.4L25.7 72.1L25.8 72.6L25.1 74.0L27.3 74.6L29.0 73.4L29.1 72.4L29.9 73.4L31.8 72.7L32.0 73.7L32.3 71.9L33.2 71.0L34.5 70.5L35.4 70.5L37.8 70.0L39.0 68.8L38.5 69.1L40.6 69.7L40.8 68.7L41.8 69.1L43.3 68.2L45.6 68.8L46.3 66.5L47.6 67.4L47.6 67.8L47.5 69.2L48.6 69.9L49.6 70.3L50.1 72.7L51.3 73.0L52.5 73.6L51.6 74.3L52.7 75.9L53.1 76.1L54.6 76.3L55.2 76.7L57.0 77.6L57.4 78.6L58.0 79.6L58.2 80.3L60.5 80.9L60.0 82.5L61.6 82.2L63.2 83.9L62.4 84.3L63.7 84.8L63.0 86.0L66.1 86.9L64.8 87.7L66.1 89.4L64.4 91.0L64.8 92.5L66.1 92.7L68.3 93.1L68.0 94.3L69.2 94.3L69.9 95.3L70.4 96.7L70.4 96.8L71.3 97.7L71.8 98.4L72.1 100.6L74.6 100.3L75.2 99.8L76.9 101.4L76.3 101.3L78.5 101.0L79.0 101.2L80.5 103.5L80.6 104.8L81.1 104.1L82.1 106.9L83.4 107.6L83.6 106.6L83.8 108.5L85.1 107.8L85.3 109.1L86.9 110.9L86.9 111.2L87.0 113.3L87.3 113.7L88.2 114.0L88.6 115.6L90.4 115.6L90.4 116.2L92.6 117.1L91.6 118.6L93.7 118.0L94.4 118.0L95.7 120.3L97.7 119.9L96.5 120.8L98.5 121.7L99.9 121.0L99.8 121.5L101.2 122.6L101.8 123.5L102.0 124.1L103.0 125.5L102.4 128.1L103.7 127.4L104.3 128.4L104.0 130.8L102.8 131.0L62.8 171.0L-20.0 260.0L-20.0 40.0Z" fill="#0a5a30" clip-path="url(#land)"/>
<path d="M109.5 140.0L110.5 139.7L112.0 140.4L112.9 140.4L114.3 140.7L115.5 141.2L115.9 142.1L116.8 143.2L116.7 143.8L117.1 144.8L118.4 145.9L119.0 146.9L119.8 147.6L121.1 148.5L120.7 148.9L122.2 149.2L123.4 150.0L123.5 151.4L124.4 152.8L123.3 152.5L122.1 153.0L82.1 193.0L-20.0 260.0L-20.0 40.0Z" fill="#0a5a30" clip-path="url(#land)"/>
<path d="M147.5 178.0L148.3 178.0L150.3 179.0L150.4 179.2L152.5 180.1L152.4 181.1L153.9 181.9L155.2 181.5L155.3 183.2L156.0 183.6L158.4 183.7L158.4 185.4L159.5 185.5L159.4 187.1L161.0 186.7L161.4 187.4L162.7 188.1L163.3 188.5L164.2 189.0L164.1 190.0L166.1 191.2L167.6 190.8L167.6 190.8L168.6 191.5L170.1 192.0L170.4 192.4L170.5 194.3L172.1 195.8L173.3 195.8L173.8 196.9L174.2 197.4L175.7 197.0L176.6 198.8L177.7 199.0L178.4 199.4L180.2 200.1L180.0 201.8L180.8 201.6L182.9 202.6L183.0 202.3L184.7 203.2L185.4 204.9L185.2 205.4L186.1 205.8L187.3 206.0L188.6 206.9L189.4 207.4L190.7 208.1L190.1 209.2L190.3 210.6L190.4 212.3L190.4 213.5L189.5 213.7L189.1 215.0L188.0 216.1L187.8 216.9L187.7 217.9L187.6 219.0L187.5 219.5L188.3 221.5L187.7 222.3L188.9 223.9L188.9 224.6L189.0 225.5L189.2 226.4L188.5 227.8L187.6 228.9L188.4 229.8L148.4 269.8L-20.0 260.0L-20.0 40.0Z" fill="#0a5a30" clip-path="url(#land)"/>
<g fill="#0a5a30" clip-path="url(#land)"><ellipse cx="65.1" cy="82.9" rx="0.69" ry="0.53" transform="rotate(47 65.1 82.9)"/><ellipse cx="70.4" cy="96.6" rx="0.67" ry="0.52" transform="rotate(62 70.4 96.6)"/><ellipse cx="96.8" cy="118.3" rx="0.53" ry="0.41" transform="rotate(31 96.8 118.3)"/><ellipse cx="45.2" cy="67.8" rx="0.90" ry="0.70" transform="rotate(-26 45.2 67.8)"/><ellipse cx="49.2" cy="70.0" rx="0.92" ry="0.71" transform="rotate(68 49.2 70.0)"/><ellipse cx="29.8" cy="71.8" rx="0.64" ry="0.50" transform="rotate(-14 29.8 71.8)"/><ellipse cx="38.5" cy="68.1" rx="0.52" ry="0.40" transform="rotate(-44 38.5 68.1)"/><ellipse cx="27.6" cy="72.4" rx="0.91" ry="0.70" transform="rotate(-36 27.6 72.4)"/><ellipse cx="42.7" cy="65.7" rx="1.11" ry="0.85" transform="rotate(-18 42.7 65.7)"/><ellipse cx="70.0" cy="92.6" rx="0.62" ry="0.48" transform="rotate(23 70.0 92.6)"/><ellipse cx="104.3" cy="130.2" rx="1.15" ry="0.88" transform="rotate(111 104.3 130.2)"/><ellipse cx="84.7" cy="105.3" rx="0.79" ry="0.60" transform="rotate(28 84.7 105.3)"/><ellipse cx="60.9" cy="81.5" rx="0.72" ry="0.55" transform="rotate(40 60.9 81.5)"/><ellipse cx="64.8" cy="82.7" rx="0.54" ry="0.41" transform="rotate(50 64.8 82.7)"/><ellipse cx="85.3" cy="104.3" rx="0.94" ry="0.72" transform="rotate(18 85.3 104.3)"/><ellipse cx="56.5" cy="77.6" rx="0.93" ry="0.72" transform="rotate(56 56.5 77.6)"/><ellipse cx="34.8" cy="71.1" rx="1.19" ry="0.91" transform="rotate(-19 34.8 71.1)"/><ellipse cx="94.3" cy="117.8" rx="0.82" ry="0.63" transform="rotate(51 94.3 117.8)"/><ellipse cx="77.4" cy="101.1" rx="0.98" ry="0.75" transform="rotate(35 77.4 101.1)"/><ellipse cx="38.4" cy="68.9" rx="0.63" ry="0.48" transform="rotate(-37 38.4 68.9)"/><ellipse cx="34.4" cy="71.2" rx="1.24" ry="0.95" transform="rotate(-45 34.4 71.2)"/><ellipse cx="36.5" cy="69.5" rx="0.88" ry="0.68" transform="rotate(-31 36.5 69.5)"/><ellipse cx="103.9" cy="126.5" rx="0.66" ry="0.51" transform="rotate(54 103.9 126.5)"/><ellipse cx="36.7" cy="67.0" rx="0.54" ry="0.41" transform="rotate(-12 36.7 67.0)"/><ellipse cx="79.2" cy="99.8" rx="0.96" ry="0.74" transform="rotate(47 79.2 99.8)"/><ellipse cx="104.5" cy="128.0" rx="1.26" ry="0.97" transform="rotate(118 104.5 128.0)"/><ellipse cx="30.3" cy="71.4" rx="0.75" ry="0.58" transform="rotate(-35 30.3 71.4)"/><ellipse cx="62.2" cy="81.1" rx="1.01" ry="0.78" transform="rotate(13 62.2 81.1)"/><ellipse cx="66.7" cy="90.7" rx="0.83" ry="0.64" transform="rotate(50 66.7 90.7)"/><ellipse cx="100.7" cy="123.1" rx="0.58" ry="0.45" transform="rotate(30 100.7 123.1)"/><ellipse cx="46.5" cy="67.4" rx="0.71" ry="0.55" transform="rotate(-7 46.5 67.4)"/><ellipse cx="52.3" cy="72.5" rx="0.65" ry="0.50" transform="rotate(46 52.3 72.5)"/><ellipse cx="52.6" cy="71.1" rx="0.91" ry="0.70" transform="rotate(74 52.6 71.1)"/><ellipse cx="31.8" cy="70.8" rx="0.66" ry="0.51" transform="rotate(-16 31.8 70.8)"/><ellipse cx="82.6" cy="104.5" rx="0.93" ry="0.72" transform="rotate(55 82.6 104.5)"/><ellipse cx="91.6" cy="117.0" rx="1.07" ry="0.83" transform="rotate(13 91.6 117.0)"/><ellipse cx="64.0" cy="87.0" rx="0.54" ry="0.41" transform="rotate(65 64.0 87.0)"/><ellipse cx="30.4" cy="70.8" rx="1.21" ry="0.93" transform="rotate(-38 30.4 70.8)"/><ellipse cx="86.1" cy="107.4" rx="1.23" ry="0.95" transform="rotate(73 86.1 107.4)"/><ellipse cx="88.6" cy="108.8" rx="0.62" ry="0.47" transform="rotate(43 88.6 108.8)"/><ellipse cx="80.5" cy="103.5" rx="0.63" ry="0.48" transform="rotate(34 80.5 103.5)"/><ellipse cx="57.4" cy="76.9" rx="0.94" ry="0.72" transform="rotate(19 57.4 76.9)"/><ellipse cx="93.2" cy="117.4" rx="0.76" ry="0.58" transform="rotate(52 93.2 117.4)"/><ellipse cx="79.0" cy="101.3" rx="1.07" ry="0.82" transform="rotate(41 79.0 101.3)"/><ellipse cx="76.0" cy="97.9" rx="0.79" ry="0.61" transform="rotate(29 76.0 97.9)"/><ellipse cx="71.0" cy="95.8" rx="1.08" ry="0.83" transform="rotate(34 71.0 95.8)"/><ellipse cx="49.8" cy="70.6" rx="1.12" ry="0.86" transform="rotate(50 49.8 70.6)"/><ellipse cx="66.6" cy="88.1" rx="0.58" ry="0.44" transform="rotate(42 66.6 88.1)"/><ellipse cx="89.8" cy="115.1" rx="0.74" ry="0.57" transform="rotate(9 89.8 115.1)"/><ellipse cx="83.4" cy="105.3" rx="1.23" ry="0.95" transform="rotate(36 83.4 105.3)"/><ellipse cx="57.5" cy="80.0" rx="1.08" ry="0.83" transform="rotate(28 57.5 80.0)"/><ellipse cx="92.1" cy="116.8" rx="0.92" ry="0.71" transform="rotate(41 92.1 116.8)"/><ellipse cx="94.2" cy="117.6" rx="0.99" ry="0.76" transform="rotate(51 94.2 117.6)"/><ellipse cx="31.6" cy="72.0" rx="0.79" ry="0.61" transform="rotate(-46 31.6 72.0)"/><ellipse cx="42.9" cy="66.4" rx="0.64" ry="0.49" transform="rotate(0 42.9 66.4)"/><ellipse cx="50.4" cy="68.7" rx="0.67" ry="0.52" transform="rotate(59 50.4 68.7)"/><ellipse cx="28.0" cy="71.5" rx="0.57" ry="0.44" transform="rotate(-6 28.0 71.5)"/><ellipse cx="88.4" cy="111.4" rx="1.23" ry="0.95" transform="rotate(50 88.4 111.4)"/><ellipse cx="80.4" cy="102.5" rx="0.57" ry="0.44" transform="rotate(27 80.4 102.5)"/><ellipse cx="72.1" cy="95.1" rx="0.82" ry="0.63" transform="rotate(38 72.1 95.1)"/></g>
<g fill="#f3f7bf" clip-path="url(#land)"><ellipse cx="51.5" cy="79.7" rx="1.14" ry="0.36" transform="rotate(-18 51.5 79.7)"/><ellipse cx="63.4" cy="88.1" rx="1.42" ry="0.44" transform="rotate(-32 63.4 88.1)"/><ellipse cx="45.9" cy="75.3" rx="1.63" ry="0.51" transform="rotate(-32 45.9 75.3)"/><ellipse cx="54.0" cy="84.1" rx="1.50" ry="0.47" transform="rotate(-21 54.0 84.1)"/><ellipse cx="45.1" cy="74.5" rx="1.56" ry="0.49" transform="rotate(-59 45.1 74.5)"/><ellipse cx="40.5" cy="73.3" rx="2.31" ry="0.72" transform="rotate(-32 40.5 73.3)"/><ellipse cx="49.8" cy="83.5" rx="2.27" ry="0.71" transform="rotate(-30 49.8 83.5)"/><ellipse cx="44.0" cy="70.3" rx="1.34" ry="0.42" transform="rotate(-48 44.0 70.3)"/><ellipse cx="52.1" cy="83.7" rx="1.83" ry="0.57" transform="rotate(-61 52.1 83.7)"/><ellipse cx="76.0" cy="101.9" rx="1.17" ry="0.36" transform="rotate(-32 76.0 101.9)"/><ellipse cx="42.1" cy="71.7" rx="1.43" ry="0.45" transform="rotate(-49 42.1 71.7)"/><ellipse cx="66.4" cy="99.2" rx="1.39" ry="0.44" transform="rotate(-14 66.4 99.2)"/><ellipse cx="45.5" cy="70.8" rx="1.66" ry="0.52" transform="rotate(-30 45.5 70.8)"/><ellipse cx="77.5" cy="106.7" rx="1.20" ry="0.38" transform="rotate(-62 77.5 106.7)"/><ellipse cx="75.7" cy="101.5" rx="2.24" ry="0.70" transform="rotate(-58 75.7 101.5)"/><ellipse cx="47.8" cy="74.8" rx="2.12" ry="0.66" transform="rotate(-18 47.8 74.8)"/><ellipse cx="78.1" cy="111.2" rx="1.19" ry="0.37" transform="rotate(-43 78.1 111.2)"/><ellipse cx="73.0" cy="102.9" rx="1.15" ry="0.36" transform="rotate(-28 73.0 102.9)"/><ellipse cx="44.7" cy="70.1" rx="1.55" ry="0.48" transform="rotate(-21 44.7 70.1)"/><ellipse cx="58.4" cy="86.7" rx="2.22" ry="0.69" transform="rotate(-44 58.4 86.7)"/><ellipse cx="71.1" cy="103.3" rx="1.45" ry="0.45" transform="rotate(-28 71.1 103.3)"/><ellipse cx="85.2" cy="110.3" rx="1.15" ry="0.36" transform="rotate(-33 85.2 110.3)"/><ellipse cx="48.2" cy="72.0" rx="1.95" ry="0.61" transform="rotate(-51 48.2 72.0)"/><ellipse cx="49.4" cy="80.1" rx="2.32" ry="0.73" transform="rotate(-52 49.4 80.1)"/><ellipse cx="78.0" cy="103.1" rx="1.47" ry="0.46" transform="rotate(-37 78.0 103.1)"/><ellipse cx="84.9" cy="112.8" rx="1.93" ry="0.60" transform="rotate(-33 84.9 112.8)"/><ellipse cx="46.0" cy="69.1" rx="1.86" ry="0.58" transform="rotate(-17 46.0 69.1)"/><ellipse cx="45.9" cy="70.7" rx="1.77" ry="0.55" transform="rotate(-60 45.9 70.7)"/><ellipse cx="76.4" cy="102.5" rx="1.28" ry="0.40" transform="rotate(-52 76.4 102.5)"/><ellipse cx="51.9" cy="84.7" rx="1.83" ry="0.57" transform="rotate(-44 51.9 84.7)"/><ellipse cx="58.3" cy="84.2" rx="2.18" ry="0.68" transform="rotate(-16 58.3 84.2)"/><ellipse cx="83.1" cy="108.3" rx="2.23" ry="0.70" transform="rotate(-44 83.1 108.3)"/><ellipse cx="72.8" cy="107.5" rx="2.09" ry="0.65" transform="rotate(-13 72.8 107.5)"/><ellipse cx="69.0" cy="101.3" rx="2.35" ry="0.73" transform="rotate(-35 69.0 101.3)"/><ellipse cx="80.7" cy="110.3" rx="2.21" ry="0.69" transform="rotate(-60 80.7 110.3)"/><ellipse cx="73.1" cy="105.1" rx="1.96" ry="0.61" transform="rotate(-59 73.1 105.1)"/><ellipse cx="78.2" cy="106.7" rx="1.47" ry="0.46" transform="rotate(-52 78.2 106.7)"/><ellipse cx="67.1" cy="100.3" rx="2.04" ry="0.64" transform="rotate(-29 67.1 100.3)"/></g>
<g fill="#0a5a30" clip-path="url(#land)"><ellipse cx="113.9" cy="132.8" rx="0.66" ry="0.41" transform="rotate(40 113.9 132.8)"/><ellipse cx="108.9" cy="129.8" rx="0.67" ry="0.42" transform="rotate(14 108.9 129.8)"/><ellipse cx="110.8" cy="131.0" rx="1.30" ry="0.81" transform="rotate(16 110.8 131.0)"/><ellipse cx="112.8" cy="134.1" rx="0.84" ry="0.53" transform="rotate(6 112.8 134.1)"/><ellipse cx="106.7" cy="129.7" rx="1.42" ry="0.89" transform="rotate(12 106.7 129.7)"/><ellipse cx="109.6" cy="131.4" rx="1.29" ry="0.81" transform="rotate(13 109.6 131.4)"/><ellipse cx="109.9" cy="132.5" rx="0.76" ry="0.47" transform="rotate(33 109.9 132.5)"/><ellipse cx="115.0" cy="132.1" rx="1.17" ry="0.73" transform="rotate(6 115.0 132.1)"/><ellipse cx="104.5" cy="128.8" rx="0.68" ry="0.42" transform="rotate(31 104.5 128.8)"/><ellipse cx="105.1" cy="128.7" rx="1.27" ry="0.79" transform="rotate(31 105.1 128.7)"/><ellipse cx="108.1" cy="129.2" rx="0.71" ry="0.44" transform="rotate(30 108.1 129.2)"/><ellipse cx="112.4" cy="134.0" rx="0.67" ry="0.42" transform="rotate(46 112.4 134.0)"/><ellipse cx="112.8" cy="133.7" rx="0.64" ry="0.40" transform="rotate(38 112.8 133.7)"/><ellipse cx="105.4" cy="129.8" rx="0.80" ry="0.50" transform="rotate(31 105.4 129.8)"/><ellipse cx="115.2" cy="131.1" rx="0.64" ry="0.40" transform="rotate(35 115.2 131.1)"/><ellipse cx="109.2" cy="132.5" rx="1.29" ry="0.81" transform="rotate(21 109.2 132.5)"/><ellipse cx="113.9" cy="134.8" rx="0.88" ry="0.55" transform="rotate(35 113.9 134.8)"/><ellipse cx="113.7" cy="134.4" rx="0.87" ry="0.54" transform="rotate(42 113.7 134.4)"/><ellipse cx="106.3" cy="127.0" rx="1.24" ry="0.77" transform="rotate(26 106.3 127.0)"/><ellipse cx="115.3" cy="132.3" rx="0.70" ry="0.43" transform="rotate(22 115.3 132.3)"/><ellipse cx="109.2" cy="131.2" rx="0.69" ry="0.43" transform="rotate(5 109.2 131.2)"/><ellipse cx="105.3" cy="130.4" rx="1.57" ry="0.98" transform="rotate(22 105.3 130.4)"/></g>
<g fill="#0a5a30" clip-path="url(#land)"><ellipse cx="122.4" cy="139.1" rx="0.71" ry="0.47" transform="rotate(10 122.4 139.1)"/><ellipse cx="122.9" cy="139.5" rx="0.60" ry="0.40" transform="rotate(13 122.9 139.5)"/><ellipse cx="123.0" cy="139.7" rx="1.03" ry="0.68" transform="rotate(32 123.0 139.7)"/><ellipse cx="122.4" cy="139.0" rx="1.00" ry="0.66" transform="rotate(53 122.4 139.0)"/></g>
<g fill="#0a5a30" clip-path="url(#land)"><ellipse cx="135.7" cy="152.8" rx="0.78" ry="0.49" transform="rotate(38 135.7 152.8)"/><ellipse cx="130.0" cy="148.8" rx="1.05" ry="0.66" transform="rotate(20 130.0 148.8)"/><ellipse cx="136.2" cy="157.2" rx="1.15" ry="0.72" transform="rotate(15 136.2 157.2)"/><ellipse cx="131.0" cy="152.6" rx="1.35" ry="0.84" transform="rotate(45 131.0 152.6)"/><ellipse cx="139.8" cy="158.5" rx="0.85" ry="0.53" transform="rotate(20 139.8 158.5)"/><ellipse cx="129.2" cy="152.1" rx="0.98" ry="0.61" transform="rotate(12 129.2 152.1)"/><ellipse cx="136.9" cy="157.7" rx="0.69" ry="0.43" transform="rotate(22 136.9 157.7)"/><ellipse cx="129.4" cy="150.8" rx="0.81" ry="0.51" transform="rotate(27 129.4 150.8)"/><ellipse cx="141.5" cy="156.6" rx="1.30" ry="0.81" transform="rotate(27 141.5 156.6)"/><ellipse cx="140.4" cy="155.3" rx="0.64" ry="0.40" transform="rotate(35 140.4 155.3)"/><ellipse cx="129.0" cy="149.7" rx="0.89" ry="0.55" transform="rotate(27 129.0 149.7)"/><ellipse cx="135.6" cy="156.1" rx="1.28" ry="0.80" transform="rotate(15 135.6 156.1)"/><ellipse cx="130.2" cy="151.1" rx="1.22" ry="0.76" transform="rotate(47 130.2 151.1)"/><ellipse cx="135.4" cy="152.1" rx="0.70" ry="0.44" transform="rotate(13 135.4 152.1)"/><ellipse cx="138.5" cy="157.8" rx="1.36" ry="0.85" transform="rotate(35 138.5 157.8)"/><ellipse cx="129.8" cy="149.9" rx="0.92" ry="0.57" transform="rotate(32 129.8 149.9)"/><ellipse cx="131.3" cy="149.4" rx="0.88" ry="0.55" transform="rotate(27 131.3 149.4)"/><ellipse cx="128.4" cy="149.5" rx="1.41" ry="0.88" transform="rotate(51 128.4 149.5)"/><ellipse cx="127.9" cy="150.0" rx="0.65" ry="0.41" transform="rotate(10 127.9 150.0)"/><ellipse cx="132.9" cy="155.8" rx="0.64" ry="0.40" transform="rotate(38 132.9 155.8)"/><ellipse cx="128.9" cy="151.5" rx="0.67" ry="0.42" transform="rotate(46 128.9 151.5)"/><ellipse cx="129.1" cy="150.2" rx="0.99" ry="0.62" transform="rotate(48 129.1 150.2)"/><ellipse cx="135.9" cy="157.2" rx="0.93" ry="0.58" transform="rotate(35 135.9 157.2)"/><ellipse cx="131.1" cy="152.1" rx="0.74" ry="0.46" transform="rotate(45 131.1 152.1)"/><ellipse cx="132.7" cy="150.9" rx="1.59" ry="1.00" transform="rotate(36 132.7 150.9)"/><ellipse cx="131.0" cy="153.7" rx="0.75" ry="0.47" transform="rotate(7 131.0 153.7)"/></g>
<g fill="#0a5a30" clip-path="url(#land)"><ellipse cx="144.1" cy="167.5" rx="0.81" ry="0.48" transform="rotate(32 144.1 167.5)"/><ellipse cx="151.4" cy="170.0" rx="1.03" ry="0.60" transform="rotate(14 151.4 170.0)"/><ellipse cx="145.4" cy="167.2" rx="0.97" ry="0.57" transform="rotate(33 145.4 167.2)"/><ellipse cx="158.8" cy="172.0" rx="1.04" ry="0.61" transform="rotate(22 158.8 172.0)"/><ellipse cx="154.7" cy="168.4" rx="1.38" ry="0.81" transform="rotate(30 154.7 168.4)"/><ellipse cx="144.8" cy="165.4" rx="0.74" ry="0.43" transform="rotate(13 144.8 165.4)"/><ellipse cx="143.7" cy="167.2" rx="1.61" ry="0.95" transform="rotate(44 143.7 167.2)"/><ellipse cx="157.2" cy="174.3" rx="1.27" ry="0.75" transform="rotate(21 157.2 174.3)"/><ellipse cx="147.1" cy="166.0" rx="0.97" ry="0.57" transform="rotate(19 147.1 166.0)"/><ellipse cx="157.1" cy="174.3" rx="0.77" ry="0.45" transform="rotate(24 157.1 174.3)"/><ellipse cx="156.5" cy="170.6" rx="0.74" ry="0.44" transform="rotate(25 156.5 170.6)"/><ellipse cx="154.5" cy="168.4" rx="0.71" ry="0.42" transform="rotate(23 154.5 168.4)"/><ellipse cx="161.1" cy="172.4" rx="1.22" ry="0.72" transform="rotate(50 161.1 172.4)"/><ellipse cx="155.7" cy="170.8" rx="1.21" ry="0.71" transform="rotate(14 155.7 170.8)"/><ellipse cx="154.7" cy="171.3" rx="1.07" ry="0.63" transform="rotate(46 154.7 171.3)"/><ellipse cx="151.9" cy="168.5" rx="0.91" ry="0.54" transform="rotate(47 151.9 168.5)"/><ellipse cx="148.8" cy="167.2" rx="1.31" ry="0.77" transform="rotate(11 148.8 167.2)"/><ellipse cx="145.9" cy="167.4" rx="1.15" ry="0.68" transform="rotate(24 145.9 167.4)"/><ellipse cx="151.5" cy="170.4" rx="1.58" ry="0.93" transform="rotate(51 151.5 170.4)"/><ellipse cx="151.4" cy="168.2" rx="1.66" ry="0.98" transform="rotate(39 151.4 168.2)"/><ellipse cx="158.7" cy="173.1" rx="0.72" ry="0.43" transform="rotate(31 158.7 173.1)"/><ellipse cx="149.8" cy="166.2" rx="1.12" ry="0.66" transform="rotate(40 149.8 166.2)"/><ellipse cx="151.2" cy="169.6" rx="0.68" ry="0.40" transform="rotate(28 151.2 169.6)"/><ellipse cx="161.8" cy="175.4" rx="1.11" ry="0.66" transform="rotate(51 161.8 175.4)"/><ellipse cx="156.7" cy="169.6" rx="1.57" ry="0.92" transform="rotate(35 156.7 169.6)"/><ellipse cx="156.7" cy="171.7" rx="1.08" ry="0.64" transform="rotate(49 156.7 171.7)"/><ellipse cx="156.1" cy="174.1" rx="0.69" ry="0.40" transform="rotate(7 156.1 174.1)"/><ellipse cx="161.4" cy="174.6" rx="1.68" ry="0.99" transform="rotate(48 161.4 174.6)"/><ellipse cx="147.9" cy="166.9" rx="1.63" ry="0.96" transform="rotate(39 147.9 166.9)"/><ellipse cx="159.4" cy="171.7" rx="0.81" ry="0.48" transform="rotate(8 159.4 171.7)"/></g>
<g fill="#0a5a30" clip-path="url(#land)"><ellipse cx="172.6" cy="189.7" rx="0.60" ry="0.60" transform="rotate(73 172.6 189.7)"/><ellipse cx="169.0" cy="185.5" rx="0.55" ry="0.55" transform="rotate(59 169.0 185.5)"/><ellipse cx="174.8" cy="192.4" rx="0.52" ry="0.52" transform="rotate(66 174.8 192.4)"/></g>
<g fill="#0a5a30" clip-path="url(#land)"><ellipse cx="162.9" cy="185.7" rx="0.73" ry="0.56" transform="rotate(8 162.9 185.7)"/><ellipse cx="174.2" cy="194.8" rx="0.69" ry="0.53" transform="rotate(25 174.2 194.8)"/><ellipse cx="159.1" cy="183.4" rx="0.54" ry="0.42" transform="rotate(53 159.1 183.4)"/><ellipse cx="187.9" cy="205.9" rx="0.57" ry="0.44" transform="rotate(37 187.9 205.9)"/><ellipse cx="161.6" cy="186.6" rx="0.55" ry="0.42" transform="rotate(46 161.6 186.6)"/><ellipse cx="176.7" cy="196.1" rx="1.15" ry="0.89" transform="rotate(56 176.7 196.1)"/><ellipse cx="191.6" cy="211.5" rx="1.17" ry="0.90" transform="rotate(127 191.6 211.5)"/><ellipse cx="169.7" cy="190.8" rx="0.78" ry="0.60" transform="rotate(31 169.7 190.8)"/><ellipse cx="191.1" cy="213.7" rx="1.10" ry="0.85" transform="rotate(122 191.1 213.7)"/><ellipse cx="184.6" cy="201.9" rx="0.52" ry="0.40" transform="rotate(35 184.6 201.9)"/><ellipse cx="175.5" cy="197.1" rx="0.81" ry="0.62" transform="rotate(44 175.5 197.1)"/><ellipse cx="179.8" cy="199.0" rx="1.04" ry="0.80" transform="rotate(25 179.8 199.0)"/><ellipse cx="178.2" cy="197.1" rx="0.81" ry="0.62" transform="rotate(25 178.2 197.1)"/><ellipse cx="168.3" cy="189.0" rx="0.53" ry="0.41" transform="rotate(28 168.3 189.0)"/><ellipse cx="190.0" cy="215.1" rx="0.82" ry="0.63" transform="rotate(129 190.0 215.1)"/><ellipse cx="169.9" cy="191.2" rx="1.06" ry="0.82" transform="rotate(19 169.9 191.2)"/><ellipse cx="190.0" cy="214.3" rx="0.56" ry="0.43" transform="rotate(112 190.0 214.3)"/><ellipse cx="188.9" cy="207.4" rx="0.97" ry="0.75" transform="rotate(25 188.9 207.4)"/><ellipse cx="152.7" cy="179.9" rx="1.13" ry="0.87" transform="rotate(15 152.7 179.9)"/><ellipse cx="163.1" cy="186.9" rx="0.88" ry="0.68" transform="rotate(44 163.1 186.9)"/><ellipse cx="173.3" cy="193.6" rx="0.75" ry="0.58" transform="rotate(63 173.3 193.6)"/><ellipse cx="187.1" cy="206.2" rx="0.90" ry="0.70" transform="rotate(53 187.1 206.2)"/><ellipse cx="159.5" cy="184.4" rx="0.73" ry="0.57" transform="rotate(8 159.5 184.4)"/><ellipse cx="179.6" cy="198.1" rx="0.62" ry="0.47" transform="rotate(54 179.6 198.1)"/><ellipse cx="168.7" cy="189.2" rx="0.96" ry="0.74" transform="rotate(25 168.7 189.2)"/><ellipse cx="187.1" cy="204.0" rx="0.68" ry="0.52" transform="rotate(35 187.1 204.0)"/><ellipse cx="191.1" cy="211.3" rx="0.86" ry="0.66" transform="rotate(114 191.1 211.3)"/><ellipse cx="185.5" cy="203.6" rx="0.69" ry="0.53" transform="rotate(51 185.5 203.6)"/><ellipse cx="159.6" cy="185.8" rx="0.83" ry="0.64" transform="rotate(8 159.6 185.8)"/><ellipse cx="184.7" cy="204.4" rx="1.05" ry="0.80" transform="rotate(25 184.7 204.4)"/><ellipse cx="171.4" cy="192.5" rx="0.53" ry="0.41" transform="rotate(53 171.4 192.5)"/><ellipse cx="188.1" cy="207.0" rx="0.53" ry="0.41" transform="rotate(33 188.1 207.0)"/><ellipse cx="173.7" cy="192.6" rx="0.95" ry="0.73" transform="rotate(15 173.7 192.6)"/><ellipse cx="192.3" cy="210.6" rx="0.53" ry="0.41" transform="rotate(104 192.3 210.6)"/><ellipse cx="190.1" cy="214.5" rx="0.97" ry="0.75" transform="rotate(87 190.1 214.5)"/><ellipse cx="188.5" cy="205.5" rx="0.61" ry="0.47" transform="rotate(56 188.5 205.5)"/><ellipse cx="188.8" cy="205.4" rx="0.81" ry="0.63" transform="rotate(20 188.8 205.4)"/><ellipse cx="188.0" cy="205.6" rx="0.71" ry="0.54" transform="rotate(56 188.0 205.6)"/><ellipse cx="178.6" cy="197.2" rx="0.54" ry="0.42" transform="rotate(43 178.6 197.2)"/><ellipse cx="159.2" cy="184.5" rx="1.10" ry="0.85" transform="rotate(38 159.2 184.5)"/></g>
<g fill="#f3f7bf" clip-path="url(#land)"><ellipse cx="184.5" cy="216.5" rx="0.54" ry="0.30" transform="rotate(115 184.5 216.5)"/><ellipse cx="152.3" cy="183.0" rx="0.76" ry="0.42" transform="rotate(23 152.3 183.0)"/><ellipse cx="183.1" cy="207.5" rx="0.59" ry="0.33" transform="rotate(26 183.1 207.5)"/><ellipse cx="173.5" cy="197.1" rx="0.66" ry="0.37" transform="rotate(43 173.5 197.1)"/><ellipse cx="186.6" cy="214.9" rx="0.83" ry="0.46" transform="rotate(119 186.6 214.9)"/><ellipse cx="170.4" cy="193.6" rx="0.58" ry="0.32" transform="rotate(63 170.4 193.6)"/><ellipse cx="188.6" cy="214.2" rx="1.07" ry="0.60" transform="rotate(103 188.6 214.2)"/><ellipse cx="158.3" cy="185.6" rx="1.07" ry="0.59" transform="rotate(20 158.3 185.6)"/><ellipse cx="186.7" cy="218.2" rx="1.10" ry="0.61" transform="rotate(120 186.7 218.2)"/><ellipse cx="171.0" cy="193.5" rx="0.82" ry="0.45" transform="rotate(48 171.0 193.5)"/><ellipse cx="157.6" cy="189.3" rx="0.93" ry="0.52" transform="rotate(15 157.6 189.3)"/><ellipse cx="167.3" cy="192.1" rx="1.16" ry="0.64" transform="rotate(23 167.3 192.1)"/><ellipse cx="178.9" cy="204.3" rx="0.55" ry="0.30" transform="rotate(40 178.9 204.3)"/><ellipse cx="150.4" cy="183.4" rx="1.00" ry="0.55" transform="rotate(45 150.4 183.4)"/><ellipse cx="169.0" cy="194.1" rx="0.94" ry="0.52" transform="rotate(12 169.0 194.1)"/><ellipse cx="150.1" cy="181.6" rx="0.55" ry="0.30" transform="rotate(41 150.1 181.6)"/><ellipse cx="153.7" cy="182.7" rx="0.58" ry="0.32" transform="rotate(48 153.7 182.7)"/><ellipse cx="158.9" cy="185.8" rx="0.67" ry="0.37" transform="rotate(18 158.9 185.8)"/><ellipse cx="160.3" cy="190.2" rx="1.09" ry="0.60" transform="rotate(12 160.3 190.2)"/><ellipse cx="163.7" cy="189.9" rx="0.64" ry="0.35" transform="rotate(42 163.7 189.9)"/><ellipse cx="187.4" cy="207.5" rx="1.10" ry="0.61" transform="rotate(29 187.4 207.5)"/><ellipse cx="170.2" cy="194.7" rx="0.67" ry="0.37" transform="rotate(59 170.2 194.7)"/><ellipse cx="187.4" cy="210.0" rx="0.59" ry="0.33" transform="rotate(100 187.4 210.0)"/><ellipse cx="186.0" cy="212.2" rx="0.62" ry="0.34" transform="rotate(115 186.0 212.2)"/><ellipse cx="187.0" cy="212.2" rx="0.60" ry="0.33" transform="rotate(127 187.0 212.2)"/><ellipse cx="185.9" cy="215.1" rx="1.05" ry="0.58" transform="rotate(116 185.9 215.1)"/><ellipse cx="177.5" cy="200.7" rx="0.92" ry="0.51" transform="rotate(44 177.5 200.7)"/><ellipse cx="182.7" cy="203.4" rx="0.96" ry="0.53" transform="rotate(27 182.7 203.4)"/><ellipse cx="188.4" cy="211.8" rx="0.80" ry="0.44" transform="rotate(126 188.4 211.8)"/><ellipse cx="174.9" cy="200.9" rx="0.76" ry="0.42" transform="rotate(63 174.9 200.9)"/><ellipse cx="155.2" cy="187.7" rx="0.99" ry="0.55" transform="rotate(59 155.2 187.7)"/><ellipse cx="175.1" cy="198.5" rx="0.55" ry="0.31" transform="rotate(54 175.1 198.5)"/><ellipse cx="174.7" cy="199.9" rx="0.81" ry="0.45" transform="rotate(56 174.7 199.9)"/><ellipse cx="157.9" cy="188.4" rx="0.63" ry="0.35" transform="rotate(13 157.9 188.4)"/><ellipse cx="153.6" cy="185.0" rx="0.56" ry="0.31" transform="rotate(49 153.6 185.0)"/><ellipse cx="159.3" cy="186.8" rx="0.55" ry="0.31" transform="rotate(34 159.3 186.8)"/><ellipse cx="183.8" cy="204.6" rx="1.03" ry="0.57" transform="rotate(27 183.8 204.6)"/><ellipse cx="187.9" cy="210.0" rx="0.95" ry="0.53" transform="rotate(45 187.9 210.0)"/><ellipse cx="182.4" cy="202.4" rx="1.17" ry="0.65" transform="rotate(62 182.4 202.4)"/><ellipse cx="169.6" cy="196.4" rx="0.54" ry="0.30" transform="rotate(44 169.6 196.4)"/></g>
<g fill="#f3f7bf" clip-path="url(#land)"><ellipse cx="110.6" cy="132.2" rx="0.90" ry="0.60" transform="rotate(40 110.6 132.2)"/><ellipse cx="113.6" cy="133.4" rx="0.74" ry="0.49" transform="rotate(11 113.6 133.4)"/><ellipse cx="109.2" cy="130.7" rx="0.58" ry="0.39" transform="rotate(14 109.2 130.7)"/><ellipse cx="111.5" cy="132.8" rx="0.61" ry="0.41" transform="rotate(35 111.5 132.8)"/><ellipse cx="114.2" cy="133.5" rx="0.69" ry="0.46" transform="rotate(52 114.2 133.5)"/><ellipse cx="109.4" cy="132.0" rx="0.52" ry="0.34" transform="rotate(7 109.4 132.0)"/><ellipse cx="112.6" cy="131.3" rx="0.57" ry="0.38" transform="rotate(25 112.6 131.3)"/><ellipse cx="111.8" cy="132.6" rx="0.76" ry="0.51" transform="rotate(41 111.8 132.6)"/><ellipse cx="113.5" cy="132.7" rx="0.79" ry="0.52" transform="rotate(14 113.5 132.7)"/><ellipse cx="104.7" cy="128.5" rx="0.87" ry="0.58" transform="rotate(14 104.7 128.5)"/></g>
<g fill="#f3f7bf" clip-path="url(#land)"><ellipse cx="140.6" cy="156.4" rx="0.73" ry="0.48" transform="rotate(9 140.6 156.4)"/><ellipse cx="129.7" cy="149.5" rx="0.63" ry="0.42" transform="rotate(36 129.7 149.5)"/><ellipse cx="134.9" cy="154.4" rx="0.62" ry="0.41" transform="rotate(52 134.9 154.4)"/><ellipse cx="133.3" cy="154.6" rx="0.47" ry="0.32" transform="rotate(56 133.3 154.6)"/><ellipse cx="140.1" cy="158.7" rx="0.52" ry="0.34" transform="rotate(28 140.1 158.7)"/><ellipse cx="133.0" cy="151.8" rx="0.55" ry="0.37" transform="rotate(6 133.0 151.8)"/><ellipse cx="132.8" cy="154.3" rx="0.50" ry="0.33" transform="rotate(7 132.8 154.3)"/><ellipse cx="135.8" cy="153.5" rx="0.73" ry="0.49" transform="rotate(13 135.8 153.5)"/><ellipse cx="131.8" cy="153.8" rx="0.89" ry="0.59" transform="rotate(41 131.8 153.8)"/><ellipse cx="139.8" cy="157.7" rx="0.65" ry="0.43" transform="rotate(55 139.8 157.7)"/></g>
<g fill="#f3f7bf" clip-path="url(#land)"><ellipse cx="145.3" cy="166.3" rx="0.57" ry="0.38" transform="rotate(39 145.3 166.3)"/><ellipse cx="162.1" cy="175.0" rx="0.63" ry="0.42" transform="rotate(34 162.1 175.0)"/><ellipse cx="146.9" cy="166.2" rx="0.45" ry="0.30" transform="rotate(14 146.9 166.2)"/><ellipse cx="158.5" cy="172.0" rx="0.64" ry="0.43" transform="rotate(45 158.5 172.0)"/><ellipse cx="159.4" cy="175.0" rx="0.50" ry="0.33" transform="rotate(28 159.4 175.0)"/><ellipse cx="158.7" cy="171.9" rx="0.49" ry="0.33" transform="rotate(41 158.7 171.9)"/><ellipse cx="149.5" cy="168.4" rx="0.53" ry="0.35" transform="rotate(44 149.5 168.4)"/><ellipse cx="149.9" cy="169.9" rx="0.86" ry="0.57" transform="rotate(18 149.9 169.9)"/><ellipse cx="157.6" cy="172.9" rx="0.49" ry="0.33" transform="rotate(26 157.6 172.9)"/><ellipse cx="163.1" cy="173.9" rx="0.50" ry="0.33" transform="rotate(30 163.1 173.9)"/><ellipse cx="156.5" cy="172.0" rx="0.52" ry="0.35" transform="rotate(9 156.5 172.0)"/><ellipse cx="154.6" cy="170.0" rx="0.57" ry="0.38" transform="rotate(26 154.6 170.0)"/></g>
<g fill="#0a5a30" clip-path="url(#land)"><ellipse cx="46.0" cy="47.9" rx="0.50" ry="0.33" transform="rotate(-40 46.0 47.9)"/><ellipse cx="38.9" cy="53.1" rx="0.68" ry="0.45" transform="rotate(-9 38.9 53.1)"/><ellipse cx="37.3" cy="54.0" rx="0.75" ry="0.50" transform="rotate(-48 37.3 54.0)"/><ellipse cx="37.8" cy="52.8" rx="0.64" ry="0.42" transform="rotate(-39 37.8 52.8)"/><ellipse cx="42.7" cy="50.6" rx="0.48" ry="0.32" transform="rotate(-14 42.7 50.6)"/><ellipse cx="46.6" cy="47.8" rx="0.67" ry="0.44" transform="rotate(-31 46.6 47.8)"/></g>
<g fill="#0a5a30" clip-path="url(#land)"><ellipse cx="44.0" cy="55.5" rx="0.70" ry="0.70" transform="rotate(46 44.0 55.5)"/></g>
<path d="M15.6 67.6L16.4 66.9L17.1 66.6L18.1 65.8L19.0 66.1L19.5 65.0L20.5 64.6L21.2 64.4L22.1 64.0L23.5 63.7L24.4 64.6L24.9 64.1L25.8 64.4L26.4 65.3L26.6 66.3L27.1 67.0L28.0 68.0L28.1 68.8L28.5 69.5L28.2 70.4L27.9 71.7L27.4 72.1L27.2 72.9L26.1 72.7L25.3 72.3L24.3 71.8L23.1 71.5L22.7 70.8L21.2 71.6L20.3 71.1L19.1 71.2L19.0 70.7L18.0 70.3L16.9 70.1L16.6 69.6L16.1 68.3L15.6 67.4Z" fill="#fdfef2"/>
<use href="#gl" stroke="#a8a8a8" stroke-width="1.8"/>
<use href="#coast"/>
<rect x="0.5" y="0.5" width="239.2" height="233.5" fill="none" stroke="#3a3a3a" stroke-width="1"/><text transform="translate(7.9 24) scale(0.945 1)" font-size="25" class="s">(F)</text><path d="M20 201.5V167.0M12.4 178.8L20 166.7L27.6 178.8" stroke="#000" stroke-width="2.5" fill="none" stroke-linejoin="miter"/><text x="12.6" y="223.8" font-size="20.8" class="s">N</text><text x="54" y="209.5" font-size="18.4" class="s k" textLength="39.8" lengthAdjust="spacingAndGlyphs">2 km</text><path d="M46.5 218.5H102.2" stroke="#000" stroke-width="2.4"/>
</g>
<g transform="translate(545.5 663)">
<path d="M13.0 60.5L14.6 60.4L15.3 59.4L15.7 59.5L17.1 58.6L18.3 59.9L18.4 59.6L19.6 60.0L21.7 61.4L21.9 62.1L22.5 61.0L23.2 60.5L24.8 59.5L25.8 61.5L26.9 61.1L26.8 63.2L27.7 63.7L28.2 64.6L26.8 66.3L26.6 68.1L27.1 68.1L25.7 69.6L23.4 69.4L24.5 71.3L25.7 72.2L25.8 72.6L26.0 74.4L27.5 74.3L28.3 74.8L29.4 77.4L30.3 75.7L32.4 75.3L33.1 75.3L34.2 77.7L35.1 78.4L35.9 77.4L38.2 77.0L38.5 76.0L39.1 76.3L41.4 77.5L42.8 77.5L42.2 76.7L44.3 76.8L44.7 78.2L45.6 78.7L46.7 78.0L48.6 78.2L49.0 77.3L51.2 76.8L51.5 76.7L52.8 77.5L53.6 78.1L56.2 76.4L56.9 76.9L57.6 76.9L59.1 76.3L59.5 77.9L61.1 79.2L61.6 77.6L62.6 79.3L63.2 79.3L63.9 79.7L65.2 81.2L65.4 83.6L65.2 85.1L65.5 84.3L65.8 86.1L65.8 86.8L67.1 87.6L69.4 89.0L69.1 90.4L68.9 91.2L67.9 93.4L71.1 93.5L69.7 94.3L72.1 95.4L71.4 95.8L74.5 95.1L75.2 95.6L74.5 97.6L76.3 99.4L77.2 98.2L76.4 100.2L78.5 101.7L79.8 101.2L78.8 102.5L80.4 102.0L83.1 102.5L82.8 102.8L85.2 103.4L85.6 103.2L86.6 105.7L85.7 107.4L86.8 106.7L87.0 108.5L87.0 110.5L87.0 111.3L86.9 112.7L86.1 113.2L87.3 114.0L87.5 116.1L84.6 115.1L84.5 115.7L44.5 155.7L-20.0 260.0L-20.0 40.0Z" fill="#0a5a30" clip-path="url(#land)"/>
<path d="M86.0 117.0L88.1 117.3L89.2 117.1L89.0 116.9L90.0 119.2L92.0 117.4L93.2 117.9L93.5 116.8L95.2 118.5L95.5 119.0L96.2 120.2L98.4 119.1L99.5 119.5L99.0 119.8L101.3 119.6L101.2 123.2L102.9 122.7L103.9 122.6L104.2 122.8L104.3 123.6L105.5 123.8L107.2 124.7L107.0 125.4L108.1 126.2L109.0 129.1L109.0 129.6L109.7 128.8L111.1 129.3L113.3 129.8L113.0 130.0L114.8 131.0L117.3 129.9L117.5 131.6L119.5 131.0L118.1 132.8L119.2 134.5L120.1 134.5L122.6 134.4L122.2 135.5L123.2 136.2L124.3 137.4L126.3 137.2L126.6 138.4L125.5 140.2L126.0 141.2L125.8 143.6L126.6 144.0L127.4 144.7L129.8 143.7L130.4 144.6L130.0 145.5L131.8 147.0L131.0 147.1L133.5 147.9L132.7 148.4L134.0 148.3L135.7 150.8L136.9 150.9L136.4 151.2L137.1 152.0L138.8 152.0L140.2 153.8L140.9 152.9L142.3 153.3L142.6 153.8L143.2 156.5L144.5 155.5L144.9 158.2L145.2 158.8L145.1 160.3L145.9 160.8L148.1 161.0L147.6 161.3L148.2 163.1L149.2 163.1L148.8 164.3L149.4 165.3L150.8 166.9L153.0 166.8L152.7 166.2L153.0 167.8L154.4 169.3L154.4 169.2L157.2 168.8L157.9 169.5L158.4 171.8L158.9 171.2L159.6 171.7L161.7 171.4L161.8 173.6L163.9 172.9L164.6 174.3L164.3 174.2L164.2 175.1L165.0 177.2L165.3 177.2L165.5 180.0L166.1 180.3L167.4 180.8L167.7 182.3L167.1 181.7L167.8 183.9L165.6 183.3L164.1 184.7L164.0 186.2L165.4 185.9L166.1 187.1L167.0 186.3L167.4 187.2L168.9 187.5L169.1 189.0L170.6 190.2L172.3 189.5L172.7 189.2L172.2 191.0L174.0 192.8L174.3 193.1L174.3 194.0L176.0 193.7L176.5 195.8L176.7 195.9L179.5 197.1L180.5 197.9L180.1 199.4L181.1 199.8L182.5 199.6L181.8 201.5L182.0 201.3L185.6 200.7L184.3 201.6L186.0 201.1L186.1 204.1L187.5 204.5L187.7 203.7L188.4 205.1L188.9 206.1L188.4 209.1L189.8 208.4L189.8 209.6L190.5 210.7L191.5 211.8L190.6 214.3L189.9 213.3L189.1 214.0L186.5 215.1L186.4 214.7L186.2 216.5L187.8 215.9L187.1 218.5L188.9 219.4L188.4 219.7L188.9 221.1L189.4 223.1L189.4 223.9L191.2 222.9L193.4 224.5L191.5 224.8L192.4 225.2L191.5 226.4L190.2 228.0L188.4 228.7L188.3 230.0L188.5 230.5L148.5 270.5L-20.0 260.0L-20.0 40.0Z" fill="#0a5a30" clip-path="url(#land)"/>
<g fill="#0a5a30" clip-path="url(#land)"><ellipse cx="65.9" cy="84.8" rx="0.83" ry="0.64" transform="rotate(65 65.9 84.8)"/><ellipse cx="58.8" cy="76.5" rx="0.74" ry="0.57" transform="rotate(8 58.8 76.5)"/><ellipse cx="88.3" cy="111.1" rx="0.52" ry="0.40" transform="rotate(80 88.3 111.1)"/><ellipse cx="67.6" cy="87.2" rx="1.14" ry="0.88" transform="rotate(39 67.6 87.2)"/><ellipse cx="42.7" cy="76.1" rx="1.12" ry="0.86" transform="rotate(-6 42.7 76.1)"/><ellipse cx="81.4" cy="100.7" rx="0.68" ry="0.52" transform="rotate(26 81.4 100.7)"/><ellipse cx="42.0" cy="76.7" rx="0.67" ry="0.51" transform="rotate(-19 42.0 76.7)"/><ellipse cx="51.6" cy="77.1" rx="1.16" ry="0.89" transform="rotate(14 51.6 77.1)"/><ellipse cx="41.7" cy="76.1" rx="0.77" ry="0.59" transform="rotate(-27 41.7 76.1)"/><ellipse cx="73.3" cy="96.5" rx="1.14" ry="0.88" transform="rotate(64 73.3 96.5)"/><ellipse cx="86.5" cy="106.1" rx="0.94" ry="0.72" transform="rotate(99 86.5 106.1)"/><ellipse cx="72.2" cy="95.8" rx="0.66" ry="0.51" transform="rotate(43 72.2 95.8)"/><ellipse cx="53.1" cy="76.7" rx="0.78" ry="0.60" transform="rotate(-8 53.1 76.7)"/><ellipse cx="85.9" cy="106.4" rx="1.05" ry="0.81" transform="rotate(73 85.9 106.4)"/><ellipse cx="87.7" cy="108.1" rx="0.55" ry="0.42" transform="rotate(67 87.7 108.1)"/><ellipse cx="61.1" cy="77.8" rx="0.52" ry="0.40" transform="rotate(18 61.1 77.8)"/><ellipse cx="57.0" cy="77.1" rx="0.68" ry="0.52" transform="rotate(-8 57.0 77.1)"/><ellipse cx="76.2" cy="98.1" rx="0.76" ry="0.58" transform="rotate(17 76.2 98.1)"/><ellipse cx="86.2" cy="115.7" rx="0.73" ry="0.56" transform="rotate(141 86.2 115.7)"/><ellipse cx="88.1" cy="111.4" rx="0.81" ry="0.62" transform="rotate(63 88.1 111.4)"/><ellipse cx="87.3" cy="108.6" rx="0.68" ry="0.53" transform="rotate(56 87.3 108.6)"/><ellipse cx="79.2" cy="99.3" rx="0.84" ry="0.64" transform="rotate(54 79.2 99.3)"/></g>
<g fill="#0a5a30" clip-path="url(#land)"><ellipse cx="151.6" cy="166.7" rx="0.88" ry="0.68" transform="rotate(64 151.6 166.7)"/><ellipse cx="165.2" cy="183.9" rx="0.99" ry="0.76" transform="rotate(130 165.2 183.9)"/><ellipse cx="144.8" cy="155.9" rx="1.06" ry="0.82" transform="rotate(45 144.8 155.9)"/><ellipse cx="189.1" cy="218.3" rx="0.80" ry="0.61" transform="rotate(46 189.1 218.3)"/><ellipse cx="89.1" cy="115.5" rx="0.87" ry="0.67" transform="rotate(27 89.1 115.5)"/><ellipse cx="189.6" cy="228.3" rx="0.61" ry="0.47" transform="rotate(144 189.6 228.3)"/><ellipse cx="173.1" cy="192.1" rx="0.67" ry="0.51" transform="rotate(29 173.1 192.1)"/><ellipse cx="187.4" cy="202.4" rx="0.63" ry="0.48" transform="rotate(26 187.4 202.4)"/><ellipse cx="186.2" cy="203.5" rx="1.09" ry="0.84" transform="rotate(22 186.2 203.5)"/><ellipse cx="117.5" cy="132.4" rx="0.64" ry="0.50" transform="rotate(36 117.5 132.4)"/><ellipse cx="189.4" cy="204.3" rx="1.14" ry="0.88" transform="rotate(43 189.4 204.3)"/><ellipse cx="166.3" cy="185.8" rx="0.64" ry="0.49" transform="rotate(35 166.3 185.8)"/><ellipse cx="109.2" cy="127.5" rx="0.94" ry="0.72" transform="rotate(37 109.2 127.5)"/><ellipse cx="192.3" cy="211.8" rx="1.02" ry="0.79" transform="rotate(85 192.3 211.8)"/><ellipse cx="148.7" cy="161.0" rx="0.92" ry="0.71" transform="rotate(35 148.7 161.0)"/><ellipse cx="175.4" cy="194.1" rx="0.84" ry="0.65" transform="rotate(29 175.4 194.1)"/><ellipse cx="100.5" cy="120.3" rx="0.68" ry="0.52" transform="rotate(17 100.5 120.3)"/><ellipse cx="169.9" cy="189.0" rx="0.88" ry="0.68" transform="rotate(62 169.9 189.0)"/><ellipse cx="87.0" cy="116.1" rx="0.83" ry="0.64" transform="rotate(-12 87.0 116.1)"/><ellipse cx="97.6" cy="117.4" rx="0.96" ry="0.74" transform="rotate(27 97.6 117.4)"/><ellipse cx="103.7" cy="122.4" rx="0.80" ry="0.61" transform="rotate(14 103.7 122.4)"/><ellipse cx="94.1" cy="118.0" rx="0.52" ry="0.40" transform="rotate(42 94.1 118.0)"/><ellipse cx="166.9" cy="178.1" rx="0.86" ry="0.66" transform="rotate(84 166.9 178.1)"/><ellipse cx="120.5" cy="133.6" rx="1.15" ry="0.88" transform="rotate(57 120.5 133.6)"/><ellipse cx="117.2" cy="131.4" rx="0.53" ry="0.40" transform="rotate(45 117.2 131.4)"/><ellipse cx="188.3" cy="204.3" rx="0.52" ry="0.40" transform="rotate(56 188.3 204.3)"/><ellipse cx="181.9" cy="199.3" rx="1.15" ry="0.88" transform="rotate(33 181.9 199.3)"/><ellipse cx="143.0" cy="155.5" rx="0.55" ry="0.42" transform="rotate(23 143.0 155.5)"/><ellipse cx="120.0" cy="132.5" rx="1.01" ry="0.78" transform="rotate(25 120.0 132.5)"/><ellipse cx="178.3" cy="196.5" rx="0.58" ry="0.45" transform="rotate(23 178.3 196.5)"/><ellipse cx="162.6" cy="173.2" rx="0.56" ry="0.43" transform="rotate(40 162.6 173.2)"/><ellipse cx="137.3" cy="151.7" rx="0.58" ry="0.45" transform="rotate(36 137.3 151.7)"/><ellipse cx="131.2" cy="144.6" rx="0.62" ry="0.48" transform="rotate(28 131.2 144.6)"/><ellipse cx="139.1" cy="151.1" rx="0.73" ry="0.56" transform="rotate(61 139.1 151.1)"/><ellipse cx="153.2" cy="167.8" rx="0.61" ry="0.47" transform="rotate(68 153.2 167.8)"/><ellipse cx="114.6" cy="129.5" rx="0.72" ry="0.55" transform="rotate(48 114.6 129.5)"/><ellipse cx="86.3" cy="116.8" rx="0.58" ry="0.45" transform="rotate(-10 86.3 116.8)"/><ellipse cx="150.3" cy="165.3" rx="0.98" ry="0.75" transform="rotate(64 150.3 165.3)"/><ellipse cx="119.3" cy="133.6" rx="0.52" ry="0.40" transform="rotate(17 119.3 133.6)"/><ellipse cx="95.6" cy="119.2" rx="0.82" ry="0.63" transform="rotate(9 95.6 119.2)"/></g>
<g fill="#f8fbd0" clip-path="url(#land)"><ellipse cx="60.7" cy="80.9" rx="2.09" ry="0.75" transform="rotate(-68 60.7 80.9)"/><ellipse cx="55.8" cy="83.0" rx="1.94" ry="0.69" transform="rotate(-27 55.8 83.0)"/><ellipse cx="72.6" cy="99.6" rx="2.45" ry="0.87" transform="rotate(-63 72.6 99.6)"/><ellipse cx="59.7" cy="82.8" rx="2.01" ry="0.72" transform="rotate(-52 59.7 82.8)"/><ellipse cx="60.6" cy="87.0" rx="2.64" ry="0.94" transform="rotate(-38 60.6 87.0)"/><ellipse cx="62.4" cy="88.4" rx="1.86" ry="0.66" transform="rotate(-35 62.4 88.4)"/><ellipse cx="59.5" cy="80.7" rx="2.36" ry="0.84" transform="rotate(-53 59.5 80.7)"/><ellipse cx="67.4" cy="90.4" rx="2.33" ry="0.83" transform="rotate(-56 67.4 90.4)"/><ellipse cx="73.7" cy="104.8" rx="1.79" ry="0.64" transform="rotate(-57 73.7 104.8)"/><ellipse cx="47.5" cy="78.8" rx="1.40" ry="0.50" transform="rotate(-29 47.5 78.8)"/><ellipse cx="61.6" cy="89.5" rx="2.42" ry="0.87" transform="rotate(-48 61.6 89.5)"/><ellipse cx="56.9" cy="83.2" rx="2.77" ry="0.99" transform="rotate(-49 56.9 83.2)"/></g>
<g fill="#f3f7bf" clip-path="url(#land)"><ellipse cx="102.7" cy="122.9" rx="0.80" ry="0.35" transform="rotate(-44 102.7 122.9)"/><ellipse cx="146.8" cy="165.7" rx="0.89" ry="0.38" transform="rotate(-45 146.8 165.7)"/><ellipse cx="123.1" cy="143.8" rx="1.71" ry="0.74" transform="rotate(-11 123.1 143.8)"/><ellipse cx="149.4" cy="165.9" rx="1.50" ry="0.65" transform="rotate(-40 149.4 165.9)"/><ellipse cx="124.6" cy="144.7" rx="0.98" ry="0.43" transform="rotate(-59 124.6 144.7)"/><ellipse cx="188.5" cy="208.7" rx="1.06" ry="0.46" transform="rotate(-39 188.5 208.7)"/><ellipse cx="164.0" cy="176.6" rx="1.17" ry="0.51" transform="rotate(-55 164.0 176.6)"/><ellipse cx="178.2" cy="199.1" rx="1.01" ry="0.44" transform="rotate(-36 178.2 199.1)"/><ellipse cx="186.7" cy="222.4" rx="0.95" ry="0.41" transform="rotate(-14 186.7 222.4)"/><ellipse cx="156.3" cy="170.9" rx="0.78" ry="0.34" transform="rotate(-14 156.3 170.9)"/><ellipse cx="151.8" cy="169.0" rx="1.55" ry="0.67" transform="rotate(-46 151.8 169.0)"/><ellipse cx="110.5" cy="128.9" rx="1.20" ry="0.52" transform="rotate(-37 110.5 128.9)"/><ellipse cx="182.6" cy="206.2" rx="1.12" ry="0.49" transform="rotate(-51 182.6 206.2)"/><ellipse cx="100.6" cy="125.4" rx="1.62" ry="0.70" transform="rotate(-43 100.6 125.4)"/><ellipse cx="140.3" cy="155.3" rx="0.95" ry="0.41" transform="rotate(-54 140.3 155.3)"/><ellipse cx="115.0" cy="134.5" rx="0.77" ry="0.33" transform="rotate(-52 115.0 134.5)"/><ellipse cx="175.8" cy="197.6" rx="1.36" ry="0.59" transform="rotate(-51 175.8 197.6)"/><ellipse cx="150.3" cy="167.9" rx="1.14" ry="0.50" transform="rotate(-55 150.3 167.9)"/><ellipse cx="156.3" cy="175.3" rx="1.37" ry="0.59" transform="rotate(-14 156.3 175.3)"/><ellipse cx="161.3" cy="173.8" rx="1.22" ry="0.53" transform="rotate(-57 161.3 173.8)"/><ellipse cx="189.0" cy="210.6" rx="0.71" ry="0.31" transform="rotate(-21 189.0 210.6)"/><ellipse cx="186.5" cy="224.8" rx="1.79" ry="0.78" transform="rotate(-36 186.5 224.8)"/><ellipse cx="139.5" cy="158.3" rx="0.73" ry="0.32" transform="rotate(-47 139.5 158.3)"/><ellipse cx="186.9" cy="212.6" rx="0.85" ry="0.37" transform="rotate(-56 186.9 212.6)"/><ellipse cx="174.0" cy="195.0" rx="0.77" ry="0.33" transform="rotate(-52 174.0 195.0)"/><ellipse cx="170.8" cy="195.7" rx="0.75" ry="0.33" transform="rotate(-48 170.8 195.7)"/></g>
<g fill="#0a5a30" clip-path="url(#land)"><ellipse cx="38.5" cy="65.6" rx="1.69" ry="0.94" transform="rotate(-41 38.5 65.6)"/><ellipse cx="43.6" cy="63.8" rx="0.97" ry="0.54" transform="rotate(-50 43.6 63.8)"/><ellipse cx="44.8" cy="62.7" rx="0.94" ry="0.52" transform="rotate(-47 44.8 62.7)"/><ellipse cx="41.0" cy="64.8" rx="1.13" ry="0.63" transform="rotate(-7 41.0 64.8)"/><ellipse cx="44.9" cy="63.2" rx="1.37" ry="0.76" transform="rotate(-6 44.9 63.2)"/><ellipse cx="40.9" cy="64.2" rx="0.96" ry="0.53" transform="rotate(-44 40.9 64.2)"/></g>
<g fill="#0a5a30" clip-path="url(#land)"><ellipse cx="40.9" cy="58.1" rx="1.19" ry="0.75" transform="rotate(2 40.9 58.1)"/><ellipse cx="41.4" cy="58.4" rx="0.82" ry="0.51" transform="rotate(10 41.4 58.4)"/></g>
<g fill="#0a5a30" clip-path="url(#land)"><ellipse cx="40.8" cy="51.0" rx="0.81" ry="0.54" transform="rotate(-38 40.8 51.0)"/><ellipse cx="30.2" cy="58.0" rx="0.64" ry="0.43" transform="rotate(-17 30.2 58.0)"/><ellipse cx="31.7" cy="57.6" rx="0.63" ry="0.42" transform="rotate(-37 31.7 57.6)"/><ellipse cx="39.6" cy="52.2" rx="0.56" ry="0.37" transform="rotate(-38 39.6 52.2)"/><ellipse cx="34.7" cy="55.8" rx="0.47" ry="0.32" transform="rotate(-43 34.7 55.8)"/><ellipse cx="45.0" cy="48.3" rx="0.69" ry="0.46" transform="rotate(-21 45.0 48.3)"/></g>
<g fill="#0a5a30" clip-path="url(#land)"><ellipse cx="173.8" cy="185.3" rx="0.31" ry="0.31" transform="rotate(81 173.8 185.3)"/><ellipse cx="171.2" cy="181.7" rx="0.41" ry="0.41" transform="rotate(61 171.2 181.7)"/></g>
<path d="M15.6 67.6L16.1 67.2L17.7 66.8L17.5 66.0L18.5 64.9L19.7 64.9L20.2 64.2L21.1 64.1L22.3 63.9L23.5 63.8L24.2 63.5L25.0 64.3L26.0 64.4L27.0 64.9L27.1 66.1L27.2 66.7L28.0 67.7L28.1 68.3L28.5 69.6L27.8 69.9L27.8 71.4L27.5 72.0L26.8 73.3L26.3 72.9L25.0 72.4L24.0 71.9L23.5 71.6L22.4 71.2L21.5 71.1L20.4 70.9L19.5 71.2L18.4 71.3L17.7 70.2L16.9 70.2L16.0 69.5L15.8 68.4L15.5 67.4Z" fill="#fdfef2"/>
<use href="#gl" stroke="#a8a8a8" stroke-width="1.8"/>
<use href="#coast"/>
<rect x="0.5" y="0.5" width="239.2" height="233.5" fill="none" stroke="#3a3a3a" stroke-width="1"/><text transform="translate(7.9 24) scale(0.945 1)" font-size="25" class="s">(G)</text><path d="M19.5 201.5V167.0M11.9 178.8L19.5 166.7L27.1 178.8" stroke="#000" stroke-width="2.5" fill="none" stroke-linejoin="miter"/><text x="12.1" y="223.8" font-size="20.8" class="s">N</text><text x="53.2" y="209.5" font-size="18.4" class="s k" textLength="39.8" lengthAdjust="spacingAndGlyphs">2 km</text><path d="M45.6 218.5H101.30000000000001" stroke="#000" stroke-width="2.4"/>
</g>
<g transform="translate(794.6 663)">
<path d="M13.0 60.5L14.1 60.3L14.6 60.6L16.2 60.3L16.8 60.0L17.4 59.6L19.2 59.6L20.1 61.6L21.6 60.4L21.6 60.7L23.7 60.8L23.7 61.2L25.0 61.7L25.4 61.2L26.4 62.2L25.3 63.6L27.4 64.3L27.2 66.7L27.0 67.1L27.5 67.7L28.2 68.6L29.9 68.4L31.8 68.3L32.1 67.7L32.8 70.1L33.4 70.0L33.9 71.4L35.6 71.7L36.3 72.8L36.2 73.1L37.6 73.7L37.8 75.7L38.9 74.3L40.3 75.7L41.6 75.7L43.3 75.8L43.6 76.7L43.6 77.2L44.0 78.1L45.5 78.8L46.6 78.4L46.4 81.0L48.6 81.0L48.7 82.3L49.5 82.1L51.3 82.1L51.9 82.2L51.9 83.5L53.1 85.0L52.7 85.7L52.6 86.9L53.1 87.7L53.9 88.4L54.1 90.0L55.5 90.4L56.6 90.7L57.4 91.5L58.8 91.4L59.2 92.1L59.9 93.3L59.7 94.6L61.1 95.3L62.3 95.5L63.4 96.1L63.2 97.1L63.7 98.6L64.6 100.0L65.8 101.0L67.3 100.5L67.8 101.4L67.7 101.9L69.3 102.4L70.0 104.1L71.0 104.0L72.3 105.3L73.6 105.0L73.6 106.0L74.7 105.7L75.4 108.5L76.4 107.7L77.1 109.6L78.1 109.1L79.3 110.1L78.4 111.4L80.3 112.1L81.2 111.9L82.2 113.0L82.2 114.7L82.1 115.6L80.9 115.8L80.6 117.6L79.9 118.1L39.9 158.1L-20.0 260.0L-20.0 40.0Z" fill="#0a5a30" clip-path="url(#land)"/>
<path d="M97.0 127.5L97.4 126.4L99.6 126.7L99.8 125.1L99.8 125.4L100.5 125.4L102.3 124.5L102.8 125.3L104.2 125.0L105.5 126.4L106.3 126.9L106.0 127.8L108.2 129.1L108.7 127.5L111.3 128.1L110.3 129.3L112.3 130.8L112.1 132.0L112.7 132.7L112.5 133.1L114.5 133.9L115.0 134.8L115.5 136.2L115.8 137.1L116.4 138.8L117.7 138.3L118.1 139.4L119.6 140.5L119.0 141.1L119.7 142.1L120.3 142.7L121.0 144.5L121.8 144.4L122.9 146.4L122.8 146.9L124.6 147.6L126.0 148.2L125.8 149.1L126.1 150.5L128.0 150.5L127.5 151.3L128.3 152.1L130.3 151.0L130.6 152.6L131.5 155.2L131.9 156.2L133.1 156.7L135.1 156.5L135.5 157.3L136.6 158.1L136.5 159.0L136.5 159.8L138.2 160.8L137.9 161.6L137.5 162.6L138.7 163.5L140.2 163.7L141.3 164.7L142.4 164.0L143.0 166.3L143.6 167.6L143.8 169.2L145.7 168.6L145.8 168.8L146.4 169.1L147.7 169.8L149.1 170.6L148.9 171.9L150.8 172.0L153.1 171.8L153.5 173.1L154.9 173.2L155.2 175.1L156.6 174.8L156.1 176.1L156.6 176.2L158.3 176.1L158.5 177.5L159.9 178.4L160.4 179.6L161.3 179.8L162.5 180.7L163.6 180.4L164.2 181.8L162.9 183.6L165.0 183.2L166.2 184.2L166.5 185.1L165.1 185.9L164.9 185.2L164.6 187.9L163.0 186.9L162.2 188.6L162.6 190.6L163.3 190.6L165.5 190.3L166.6 189.6L167.2 191.5L167.1 192.3L168.8 192.2L169.6 192.8L170.7 195.1L171.6 195.4L172.3 195.4L172.8 195.3L174.4 196.3L174.9 196.4L176.2 197.8L177.2 197.9L178.1 198.5L178.2 198.9L178.7 200.9L179.8 200.3L180.5 202.5L180.8 201.9L181.6 202.6L182.2 203.9L182.7 204.7L184.6 205.3L185.3 205.0L186.3 207.2L186.9 207.9L187.7 208.7L186.4 209.0L185.8 210.2L185.8 210.8L183.9 211.3L184.3 213.1L183.2 213.0L183.6 213.4L183.8 215.4L183.6 216.2L183.7 216.9L183.8 218.9L185.5 219.7L185.5 220.6L186.3 221.2L186.4 223.1L185.8 222.8L184.7 225.0L184.2 224.6L144.2 264.6L-20.0 260.0L-20.0 40.0Z" fill="#0a5a30" clip-path="url(#land)"/>
<g fill="#0a5a30" clip-path="url(#land)"><ellipse cx="57.2" cy="89.9" rx="0.79" ry="0.61" transform="rotate(77 57.2 89.9)"/><ellipse cx="77.2" cy="108.9" rx="0.67" ry="0.51" transform="rotate(52 77.2 108.9)"/><ellipse cx="33.7" cy="68.9" rx="0.84" ry="0.64" transform="rotate(47 33.7 68.9)"/><ellipse cx="51.4" cy="82.6" rx="0.79" ry="0.61" transform="rotate(35 51.4 82.6)"/><ellipse cx="30.7" cy="66.4" rx="0.61" ry="0.47" transform="rotate(-5 30.7 66.4)"/><ellipse cx="64.5" cy="99.1" rx="0.56" ry="0.43" transform="rotate(41 64.5 99.1)"/><ellipse cx="39.7" cy="73.7" rx="0.53" ry="0.41" transform="rotate(21 39.7 73.7)"/><ellipse cx="47.8" cy="78.5" rx="0.61" ry="0.47" transform="rotate(47 47.8 78.5)"/><ellipse cx="75.2" cy="106.6" rx="0.56" ry="0.43" transform="rotate(60 75.2 106.6)"/><ellipse cx="31.0" cy="67.2" rx="0.60" ry="0.46" transform="rotate(12 31.0 67.2)"/><ellipse cx="37.1" cy="72.7" rx="0.98" ry="0.75" transform="rotate(15 37.1 72.7)"/><ellipse cx="46.7" cy="78.9" rx="0.85" ry="0.65" transform="rotate(50 46.7 78.9)"/><ellipse cx="74.3" cy="106.8" rx="0.53" ry="0.41" transform="rotate(34 74.3 106.8)"/><ellipse cx="56.2" cy="88.6" rx="0.72" ry="0.56" transform="rotate(34 56.2 88.6)"/><ellipse cx="63.1" cy="97.9" rx="0.90" ry="0.70" transform="rotate(49 63.1 97.9)"/><ellipse cx="80.8" cy="110.4" rx="0.53" ry="0.41" transform="rotate(63 80.8 110.4)"/><ellipse cx="42.3" cy="75.5" rx="0.71" ry="0.55" transform="rotate(12 42.3 75.5)"/><ellipse cx="54.6" cy="86.9" rx="0.64" ry="0.49" transform="rotate(40 54.6 86.9)"/><ellipse cx="38.6" cy="72.3" rx="0.54" ry="0.41" transform="rotate(11 38.6 72.3)"/><ellipse cx="73.6" cy="104.0" rx="1.12" ry="0.86" transform="rotate(44 73.6 104.0)"/><ellipse cx="28.3" cy="67.1" rx="0.91" ry="0.70" transform="rotate(-15 28.3 67.1)"/><ellipse cx="71.2" cy="104.0" rx="0.74" ry="0.57" transform="rotate(18 71.2 104.0)"/><ellipse cx="50.2" cy="80.4" rx="0.81" ry="0.63" transform="rotate(25 50.2 80.4)"/><ellipse cx="61.0" cy="94.4" rx="1.02" ry="0.79" transform="rotate(55 61.0 94.4)"/><ellipse cx="39.9" cy="73.0" rx="0.96" ry="0.74" transform="rotate(36 39.9 73.0)"/><ellipse cx="82.1" cy="112.5" rx="1.06" ry="0.81" transform="rotate(46 82.1 112.5)"/><ellipse cx="47.3" cy="80.1" rx="0.56" ry="0.43" transform="rotate(49 47.3 80.1)"/><ellipse cx="55.8" cy="87.0" rx="0.78" ry="0.60" transform="rotate(81 55.8 87.0)"/><ellipse cx="81.2" cy="113.6" rx="0.59" ry="0.45" transform="rotate(50 81.2 113.6)"/><ellipse cx="62.2" cy="95.6" rx="0.71" ry="0.55" transform="rotate(69 62.2 95.6)"/><ellipse cx="47.8" cy="80.0" rx="1.05" ry="0.81" transform="rotate(49 47.8 80.0)"/><ellipse cx="42.2" cy="75.6" rx="1.15" ry="0.89" transform="rotate(43 42.2 75.6)"/><ellipse cx="81.1" cy="111.1" rx="1.16" ry="0.89" transform="rotate(67 81.1 111.1)"/><ellipse cx="68.9" cy="101.9" rx="0.62" ry="0.48" transform="rotate(57 68.9 101.9)"/></g>
<g fill="#0a5a30" clip-path="url(#land)"><ellipse cx="172.7" cy="192.4" rx="1.06" ry="0.82" transform="rotate(34 172.7 192.4)"/><ellipse cx="183.0" cy="213.0" rx="1.09" ry="0.84" transform="rotate(87 183.0 213.0)"/><ellipse cx="101.5" cy="125.9" rx="1.00" ry="0.77" transform="rotate(-4 101.5 125.9)"/><ellipse cx="96.4" cy="125.7" rx="0.82" ry="0.63" transform="rotate(-18 96.4 125.7)"/><ellipse cx="185.6" cy="224.7" rx="0.56" ry="0.43" transform="rotate(121 185.6 224.7)"/><ellipse cx="133.3" cy="152.6" rx="0.68" ry="0.52" transform="rotate(51 133.3 152.6)"/><ellipse cx="119.6" cy="140.6" rx="0.87" ry="0.67" transform="rotate(43 119.6 140.6)"/><ellipse cx="151.9" cy="172.2" rx="0.52" ry="0.40" transform="rotate(46 151.9 172.2)"/><ellipse cx="159.1" cy="176.1" rx="1.07" ry="0.82" transform="rotate(59 159.1 176.1)"/><ellipse cx="172.7" cy="194.5" rx="0.53" ry="0.41" transform="rotate(58 172.7 194.5)"/><ellipse cx="165.7" cy="181.4" rx="1.08" ry="0.83" transform="rotate(34 165.7 181.4)"/><ellipse cx="158.4" cy="175.3" rx="0.94" ry="0.73" transform="rotate(41 158.4 175.3)"/><ellipse cx="174.8" cy="196.0" rx="0.61" ry="0.47" transform="rotate(34 174.8 196.0)"/><ellipse cx="125.6" cy="148.4" rx="1.04" ry="0.80" transform="rotate(70 125.6 148.4)"/><ellipse cx="147.5" cy="170.3" rx="0.62" ry="0.48" transform="rotate(26 147.5 170.3)"/><ellipse cx="186.9" cy="211.8" rx="1.02" ry="0.78" transform="rotate(129 186.9 211.8)"/><ellipse cx="171.8" cy="192.1" rx="0.55" ry="0.42" transform="rotate(13 171.8 192.1)"/><ellipse cx="165.1" cy="180.9" rx="0.57" ry="0.44" transform="rotate(57 165.1 180.9)"/><ellipse cx="114.7" cy="131.0" rx="0.70" ry="0.54" transform="rotate(51 114.7 131.0)"/><ellipse cx="183.9" cy="216.7" rx="0.52" ry="0.40" transform="rotate(92 183.9 216.7)"/><ellipse cx="103.2" cy="124.0" rx="0.54" ry="0.42" transform="rotate(13 103.2 124.0)"/><ellipse cx="181.7" cy="200.9" rx="0.66" ry="0.51" transform="rotate(22 181.7 200.9)"/><ellipse cx="116.6" cy="134.1" rx="0.79" ry="0.60" transform="rotate(48 116.6 134.1)"/><ellipse cx="152.7" cy="170.7" rx="0.65" ry="0.50" transform="rotate(49 152.7 170.7)"/><ellipse cx="166.5" cy="189.4" rx="1.10" ry="0.85" transform="rotate(24 166.5 189.4)"/><ellipse cx="157.6" cy="174.3" rx="0.96" ry="0.74" transform="rotate(52 157.6 174.3)"/><ellipse cx="97.7" cy="125.5" rx="0.84" ry="0.64" transform="rotate(-16 97.7 125.5)"/><ellipse cx="121.3" cy="140.3" rx="0.72" ry="0.55" transform="rotate(42 121.3 140.3)"/><ellipse cx="143.3" cy="164.7" rx="0.77" ry="0.59" transform="rotate(32 143.3 164.7)"/><ellipse cx="129.0" cy="151.3" rx="0.60" ry="0.46" transform="rotate(19 129.0 151.3)"/><ellipse cx="112.7" cy="129.9" rx="0.67" ry="0.52" transform="rotate(40 112.7 129.9)"/><ellipse cx="114.3" cy="130.5" rx="0.63" ry="0.49" transform="rotate(81 114.3 130.5)"/><ellipse cx="172.3" cy="192.9" rx="1.13" ry="0.87" transform="rotate(44 172.3 192.9)"/><ellipse cx="159.1" cy="174.6" rx="0.73" ry="0.56" transform="rotate(60 159.1 174.6)"/><ellipse cx="147.8" cy="169.0" rx="0.53" ry="0.40" transform="rotate(50 147.8 169.0)"/><ellipse cx="101.1" cy="123.6" rx="0.54" ry="0.41" transform="rotate(30 101.1 123.6)"/><ellipse cx="176.1" cy="195.7" rx="1.14" ry="0.87" transform="rotate(35 176.1 195.7)"/><ellipse cx="184.5" cy="223.5" rx="0.74" ry="0.57" transform="rotate(120 184.5 223.5)"/><ellipse cx="171.7" cy="193.0" rx="0.72" ry="0.55" transform="rotate(11 171.7 193.0)"/><ellipse cx="149.7" cy="170.6" rx="0.60" ry="0.46" transform="rotate(51 149.7 170.6)"/><ellipse cx="169.2" cy="192.1" rx="1.14" ry="0.88" transform="rotate(23 169.2 192.1)"/><ellipse cx="166.8" cy="185.3" rx="0.52" ry="0.40" transform="rotate(151 166.8 185.3)"/><ellipse cx="113.6" cy="133.5" rx="0.93" ry="0.71" transform="rotate(68 113.6 133.5)"/><ellipse cx="158.8" cy="175.8" rx="0.63" ry="0.49" transform="rotate(70 158.8 175.8)"/><ellipse cx="166.3" cy="182.5" rx="0.68" ry="0.52" transform="rotate(57 166.3 182.5)"/><ellipse cx="118.2" cy="140.4" rx="0.96" ry="0.74" transform="rotate(31 118.2 140.4)"/><ellipse cx="126.3" cy="148.5" rx="0.92" ry="0.71" transform="rotate(76 126.3 148.5)"/><ellipse cx="131.8" cy="154.2" rx="0.93" ry="0.71" transform="rotate(57 131.8 154.2)"/><ellipse cx="137.9" cy="159.0" rx="0.56" ry="0.43" transform="rotate(78 137.9 159.0)"/><ellipse cx="130.6" cy="153.3" rx="0.85" ry="0.65" transform="rotate(14 130.6 153.3)"/></g>
<g fill="#f3f7bf" clip-path="url(#land)"><ellipse cx="40.0" cy="77.5" rx="0.72" ry="0.30" transform="rotate(-37 40.0 77.5)"/><ellipse cx="57.8" cy="95.5" rx="1.19" ry="0.49" transform="rotate(-42 57.8 95.5)"/><ellipse cx="36.1" cy="72.8" rx="1.26" ry="0.53" transform="rotate(-33 36.1 72.8)"/><ellipse cx="71.6" cy="108.0" rx="0.98" ry="0.41" transform="rotate(-18 71.6 108.0)"/><ellipse cx="39.5" cy="77.5" rx="0.78" ry="0.33" transform="rotate(-46 39.5 77.5)"/><ellipse cx="51.2" cy="88.0" rx="1.44" ry="0.60" transform="rotate(-31 51.2 88.0)"/><ellipse cx="64.9" cy="103.1" rx="1.60" ry="0.67" transform="rotate(-42 64.9 103.1)"/><ellipse cx="72.0" cy="107.8" rx="1.52" ry="0.63" transform="rotate(-57 72.0 107.8)"/><ellipse cx="56.1" cy="94.3" rx="0.98" ry="0.41" transform="rotate(-22 56.1 94.3)"/><ellipse cx="60.5" cy="98.7" rx="1.12" ry="0.47" transform="rotate(-57 60.5 98.7)"/><ellipse cx="54.1" cy="91.7" rx="0.93" ry="0.39" transform="rotate(-29 54.1 91.7)"/><ellipse cx="69.8" cy="104.3" rx="1.38" ry="0.57" transform="rotate(-58 69.8 104.3)"/><ellipse cx="41.4" cy="78.3" rx="0.78" ry="0.33" transform="rotate(-28 41.4 78.3)"/><ellipse cx="60.5" cy="98.9" rx="1.64" ry="0.68" transform="rotate(-24 60.5 98.9)"/><ellipse cx="58.3" cy="93.9" rx="0.92" ry="0.38" transform="rotate(-17 58.3 93.9)"/><ellipse cx="53.0" cy="87.1" rx="0.77" ry="0.32" transform="rotate(-17 53.0 87.1)"/></g>
<g fill="#f3f7bf" clip-path="url(#land)"><ellipse cx="169.5" cy="196.5" rx="0.57" ry="0.30" transform="rotate(-51 169.5 196.5)"/><ellipse cx="103.8" cy="127.2" rx="1.40" ry="0.74" transform="rotate(-19 103.8 127.2)"/><ellipse cx="176.1" cy="197.8" rx="0.95" ry="0.50" transform="rotate(-19 176.1 197.8)"/><ellipse cx="130.2" cy="154.1" rx="1.48" ry="0.78" transform="rotate(-57 130.2 154.1)"/><ellipse cx="101.4" cy="126.2" rx="0.75" ry="0.40" transform="rotate(-48 101.4 126.2)"/><ellipse cx="108.5" cy="129.3" rx="0.92" ry="0.48" transform="rotate(-21 108.5 129.3)"/><ellipse cx="147.1" cy="172.6" rx="0.79" ry="0.42" transform="rotate(-24 147.1 172.6)"/><ellipse cx="161.1" cy="181.8" rx="0.93" ry="0.49" transform="rotate(-33 161.1 181.8)"/><ellipse cx="174.0" cy="197.1" rx="1.14" ry="0.60" transform="rotate(-25 174.0 197.1)"/><ellipse cx="173.6" cy="196.6" rx="0.58" ry="0.30" transform="rotate(-13 173.6 196.6)"/><ellipse cx="110.3" cy="132.3" rx="1.29" ry="0.68" transform="rotate(-44 110.3 132.3)"/><ellipse cx="178.2" cy="200.5" rx="0.69" ry="0.36" transform="rotate(-42 178.2 200.5)"/><ellipse cx="109.6" cy="131.7" rx="0.72" ry="0.38" transform="rotate(-45 109.6 131.7)"/><ellipse cx="173.2" cy="197.7" rx="0.75" ry="0.40" transform="rotate(-39 173.2 197.7)"/><ellipse cx="143.3" cy="167.7" rx="0.65" ry="0.34" transform="rotate(-56 143.3 167.7)"/><ellipse cx="157.1" cy="175.9" rx="0.57" ry="0.30" transform="rotate(-46 157.1 175.9)"/><ellipse cx="165.9" cy="194.4" rx="1.22" ry="0.64" transform="rotate(-39 165.9 194.4)"/><ellipse cx="120.5" cy="142.8" rx="0.69" ry="0.36" transform="rotate(-31 120.5 142.8)"/><ellipse cx="106.7" cy="130.5" rx="1.00" ry="0.53" transform="rotate(-26 106.7 130.5)"/><ellipse cx="178.7" cy="204.0" rx="0.58" ry="0.31" transform="rotate(-32 178.7 204.0)"/><ellipse cx="115.9" cy="140.3" rx="0.66" ry="0.35" transform="rotate(-31 115.9 140.3)"/><ellipse cx="126.6" cy="151.5" rx="1.19" ry="0.63" transform="rotate(-42 126.6 151.5)"/><ellipse cx="109.5" cy="131.4" rx="1.41" ry="0.74" transform="rotate(-58 109.5 131.4)"/><ellipse cx="135.1" cy="162.4" rx="0.85" ry="0.45" transform="rotate(-10 135.1 162.4)"/><ellipse cx="127.6" cy="152.2" rx="0.93" ry="0.49" transform="rotate(-42 127.6 152.2)"/><ellipse cx="143.8" cy="171.0" rx="0.64" ry="0.33" transform="rotate(-48 143.8 171.0)"/><ellipse cx="186.0" cy="208.0" rx="1.11" ry="0.58" transform="rotate(-56 186.0 208.0)"/><ellipse cx="146.1" cy="172.3" rx="1.41" ry="0.74" transform="rotate(-18 146.1 172.3)"/><ellipse cx="138.4" cy="166.6" rx="0.72" ry="0.38" transform="rotate(-30 138.4 166.6)"/><ellipse cx="167.0" cy="193.2" rx="0.61" ry="0.32" transform="rotate(-47 167.0 193.2)"/><ellipse cx="164.2" cy="184.6" rx="0.63" ry="0.33" transform="rotate(-23 164.2 184.6)"/><ellipse cx="117.9" cy="144.1" rx="1.52" ry="0.80" transform="rotate(-48 117.9 144.1)"/><ellipse cx="175.8" cy="199.1" rx="1.13" ry="0.60" transform="rotate(-40 175.8 199.1)"/><ellipse cx="170.6" cy="195.2" rx="0.62" ry="0.33" transform="rotate(-35 170.6 195.2)"/><ellipse cx="122.8" cy="149.2" rx="0.76" ry="0.40" transform="rotate(-23 122.8 149.2)"/><ellipse cx="150.6" cy="172.2" rx="0.64" ry="0.33" transform="rotate(-52 150.6 172.2)"/><ellipse cx="162.2" cy="184.0" rx="0.83" ry="0.43" transform="rotate(-25 162.2 184.0)"/><ellipse cx="135.1" cy="158.0" rx="0.59" ry="0.31" transform="rotate(-35 135.1 158.0)"/><ellipse cx="165.0" cy="186.4" rx="0.81" ry="0.43" transform="rotate(-18 165.0 186.4)"/><ellipse cx="158.2" cy="180.8" rx="0.68" ry="0.36" transform="rotate(-49 158.2 180.8)"/><ellipse cx="139.9" cy="166.3" rx="1.34" ry="0.71" transform="rotate(-51 139.9 166.3)"/><ellipse cx="168.1" cy="195.4" rx="0.95" ry="0.50" transform="rotate(-21 168.1 195.4)"/><ellipse cx="116.7" cy="138.3" rx="0.98" ry="0.52" transform="rotate(-41 116.7 138.3)"/><ellipse cx="162.2" cy="185.6" rx="1.34" ry="0.71" transform="rotate(-53 162.2 185.6)"/><ellipse cx="169.5" cy="193.9" rx="0.63" ry="0.33" transform="rotate(-37 169.5 193.9)"/><ellipse cx="164.8" cy="185.1" rx="0.76" ry="0.40" transform="rotate(-16 164.8 185.1)"/><ellipse cx="181.2" cy="204.8" rx="1.21" ry="0.63" transform="rotate(-34 181.2 204.8)"/><ellipse cx="171.1" cy="196.5" rx="1.39" ry="0.73" transform="rotate(-54 171.1 196.5)"/><ellipse cx="140.5" cy="169.0" rx="0.80" ry="0.42" transform="rotate(-19 140.5 169.0)"/><ellipse cx="106.8" cy="128.2" rx="1.26" ry="0.66" transform="rotate(-40 106.8 128.2)"/></g>
<g fill="#0a5a30" clip-path="url(#land)"><ellipse cx="31.2" cy="57.6" rx="0.53" ry="0.36" transform="rotate(-23 31.2 57.6)"/><ellipse cx="32.2" cy="57.5" rx="0.55" ry="0.37" transform="rotate(-45 32.2 57.5)"/><ellipse cx="43.6" cy="49.1" rx="0.79" ry="0.53" transform="rotate(-33 43.6 49.1)"/><ellipse cx="38.1" cy="52.6" rx="0.46" ry="0.31" transform="rotate(-25 38.1 52.6)"/><ellipse cx="33.8" cy="56.3" rx="0.49" ry="0.32" transform="rotate(-31 33.8 56.3)"/><ellipse cx="34.9" cy="55.7" rx="0.45" ry="0.30" transform="rotate(-45 34.9 55.7)"/></g>
<circle cx="159.5" cy="171.5" r="0.6" fill="#0a5a30"/>
<path d="M15.6 67.6L16.4 66.7L17.3 66.5L18.0 66.5L18.6 65.8L19.6 64.9L20.3 64.2L21.6 64.1L22.3 64.3L23.8 63.8L24.3 64.6L25.1 64.0L26.0 64.4L26.8 65.1L26.6 65.9L27.4 66.6L28.0 68.0L28.7 68.3L28.6 69.5L28.4 70.6L27.8 71.2L27.2 72.4L26.8 73.1L26.1 73.0L25.1 72.2L24.1 72.6L23.5 71.7L22.3 71.2L21.7 71.4L20.2 70.9L19.8 71.0L19.0 70.2L17.6 70.3L16.7 70.0L16.6 69.6L15.6 68.8L15.5 67.6Z" fill="#fdfef2"/>
<use href="#gl" stroke="#a8a8a8" stroke-width="1.8"/>
<use href="#coast"/>
<rect x="0.5" y="0.5" width="239.2" height="233.5" fill="none" stroke="#3a3a3a" stroke-width="1"/><text transform="translate(7.9 24) scale(0.945 1)" font-size="25" class="s">(H)</text><path d="M19.5 200.5V166.0M11.9 177.8L19.5 165.7L27.1 177.8" stroke="#000" stroke-width="2.5" fill="none" stroke-linejoin="miter"/><text x="12.1" y="222.8" font-size="20.8" class="s">N</text><text x="53.2" y="208.5" font-size="18.4" class="s k" textLength="39.8" lengthAdjust="spacingAndGlyphs">2 km</text><path d="M45.6 217H101.30000000000001" stroke="#000" stroke-width="2.4"/>
</g>
</svg>
</body></html>
